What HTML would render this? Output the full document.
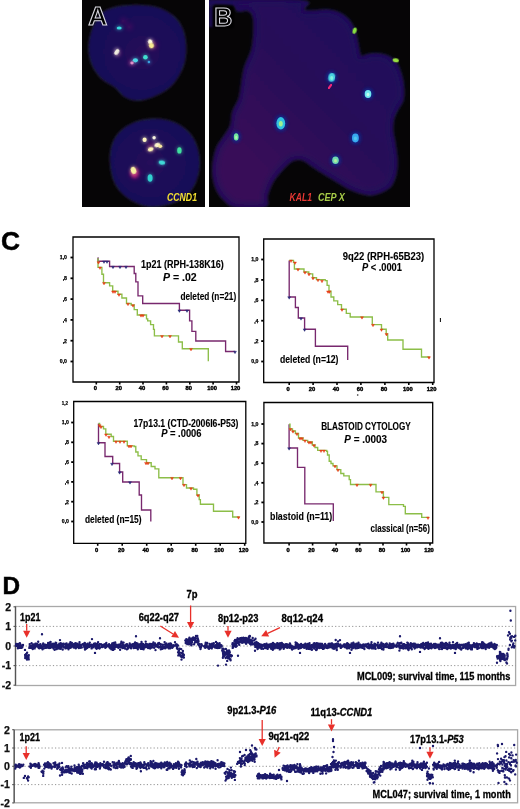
<!DOCTYPE html>
<html><head><meta charset="utf-8"><title>Figure</title>
<style>html,body{margin:0;padding:0;background:#fff;}body{width:520px;height:809px;position:relative;overflow:hidden;}</style>
</head><body>
<svg width="520" height="809" viewBox="0 0 520 809" style="position:absolute;left:0;top:0">
<defs>
<clipPath id="clipA"><rect x="82" y="0" width="123" height="207"/></clipPath>
<clipPath id="clipB"><rect x="209" y="0" width="201" height="207"/></clipPath>
<filter id="blur1" x="-10%" y="-10%" width="120%" height="120%"><feGaussianBlur stdDeviation="1.2"/></filter>
<filter id="blur06"><feGaussianBlur stdDeviation="0.6"/></filter>
<filter id="glow" x="-100%" y="-100%" width="300%" height="300%"><feGaussianBlur stdDeviation="1.6"/></filter>
<filter id="glowbig" x="-100%" y="-100%" width="300%" height="300%"><feGaussianBlur stdDeviation="2.5"/></filter>
<radialGradient id="gA1" cx="0.55" cy="0.5" r="0.55"><stop offset="0" stop-color="#280c5a"/><stop offset="0.45" stop-color="#1c0e58"/><stop offset="1" stop-color="#170e58"/></radialGradient>
<radialGradient id="gA2" cx="0.45" cy="0.5" r="0.55"><stop offset="0" stop-color="#260c5a"/><stop offset="0.45" stop-color="#1c0e58"/><stop offset="1" stop-color="#170e58"/></radialGradient>
<linearGradient id="gB" x1="1" y1="0" x2="0" y2="1"><stop offset="0" stop-color="#220c5c"/><stop offset="0.4" stop-color="#260c5a"/><stop offset="0.75" stop-color="#380a58"/><stop offset="1" stop-color="#3a0a58"/></linearGradient>
<filter id="innerB" x="-5%" y="-5%" width="110%" height="110%"><feMorphology operator="erode" radius="3"/><feGaussianBlur stdDeviation="3.5"/></filter>
<linearGradient id="gBfade" x1="0" y1="0" x2="0" y2="1"><stop offset="0" stop-color="#fff"/><stop offset="0.35" stop-color="#000"/><stop offset="1" stop-color="#000"/></linearGradient>
<radialGradient id="gBm" cx="0.4" cy="0.75" r="0.5"><stop offset="0" stop-color="#42085a" stop-opacity="0.7"/><stop offset="1" stop-color="#42085a" stop-opacity="0"/></radialGradient>
</defs>
<rect x="82" y="0" width="123" height="207" fill="#060506"/>
<g clip-path="url(#clipA)">
<path d="M105.6,10.6 C109.7,8.4 115.9,6.8 122.2,5.9 C128.5,5.0 137.2,4.8 143.5,5.2 C149.8,5.6 154.9,6.4 160.0,8.3 C165.1,10.2 170.4,13.2 174.2,16.5 C177.9,19.9 180.5,23.7 182.5,28.4 C184.5,33.1 185.6,39.4 186.0,44.9 C186.4,50.4 186.0,56.4 184.8,61.5 C183.6,66.6 181.5,71.4 178.9,75.7 C176.3,80.0 173.8,84.0 169.5,87.5 C165.2,91.0 158.4,94.7 152.9,96.9 C147.4,99.1 141.1,100.5 136.4,100.5 C131.7,100.5 128.2,99.1 124.6,96.9 C121.0,94.7 119.0,90.7 115.1,87.5 C111.1,84.3 104.8,82.0 100.9,78.0 C97.0,74.0 93.5,68.9 91.5,63.8 C89.5,58.7 88.6,52.8 88.6,47.3 C88.6,41.8 90.0,35.4 91.5,30.7 C93.0,26.0 95.1,22.2 97.4,18.9 C99.8,15.5 101.5,12.8 105.6,10.6 Z" fill="url(#gA1)" stroke="#22203a" stroke-width="1.1" filter="url(#blur1)"/>
<path d="M109.9,159.1 C109.9,153.2 110.9,147.3 112.7,142.6 C114.5,137.9 117.5,134.0 121.0,130.7 C124.5,127.3 129.1,124.5 134.0,122.5 C138.9,120.5 145.1,119.3 150.6,118.9 C156.1,118.5 162.0,118.9 167.1,120.1 C172.2,121.3 177.0,123.0 181.3,126.0 C185.6,128.9 190.2,133.1 193.1,137.8 C196.0,142.5 198.0,148.9 199.0,154.4 C200.0,159.9 200.0,165.4 199.0,170.9 C198.0,176.4 196.0,182.8 193.1,187.5 C190.2,192.2 186.0,196.4 181.3,199.3 C176.6,202.2 170.2,204.0 164.7,205.2 C159.2,206.4 153.7,207.2 148.2,206.4 C142.7,205.6 136.3,203.1 131.6,200.5 C126.9,197.9 122.9,194.8 119.8,191.0 C116.7,187.2 114.3,183.3 112.7,178.0 C111.1,172.7 109.9,165.0 109.9,159.1 Z" fill="url(#gA2)" stroke="#22203a" stroke-width="1.1" filter="url(#blur1)"/>
<circle cx="123.4" cy="20.8" r="2.5" fill="#a01070" opacity="0.45" filter="url(#glowbig)"/>
<circle cx="129.3" cy="26.7" r="2.5" fill="#a01070" opacity="0.45" filter="url(#glowbig)"/>
<circle cx="131.6" cy="62.6" r="3" fill="#a01070" opacity="0.45" filter="url(#glowbig)"/>
<circle cx="135" cy="174" r="5" fill="#a01070" opacity="0.45" filter="url(#glowbig)"/>
<circle cx="151" cy="146" r="4" fill="#a01070" opacity="0.45" filter="url(#glowbig)"/>
<circle cx="153" cy="45" r="4" fill="#a01070" opacity="0.45" filter="url(#glowbig)"/>
<circle cx="118" cy="53" r="3" fill="#a01070" opacity="0.45" filter="url(#glowbig)"/>
<ellipse cx="134.5" cy="173" rx="4" ry="5" fill="#d02080" opacity="0.75" filter="url(#glow)"/>
<ellipse cx="119.2" cy="27.9" rx="3.7" ry="2.7" fill="#38d8e0" opacity="0.35" filter="url(#glow)"/>
<ellipse cx="119.2" cy="27.9" rx="2.5" ry="1.5" fill="#38d8e0" transform="rotate(0 119.2 27.9)" filter="url(#blur06)"/>
<ellipse cx="150.2" cy="41.8" rx="3.4000000000000004" ry="3.8" fill="#fffbe8" opacity="0.35" filter="url(#glow)"/>
<ellipse cx="150.2" cy="41.8" rx="2.2" ry="2.6" fill="#fffbe8" transform="rotate(-25 150.2 41.8)" filter="url(#blur06)"/>
<ellipse cx="151.4" cy="45.6" rx="3.5999999999999996" ry="3.8" fill="#f8ec90" opacity="0.35" filter="url(#glow)"/>
<ellipse cx="151.4" cy="45.6" rx="2.4" ry="2.6" fill="#f8ec90" transform="rotate(-25 151.4 45.6)" filter="url(#blur06)"/>
<ellipse cx="116.8" cy="52.0" rx="3.2" ry="4.5" fill="#f0ece0" opacity="0.35" filter="url(#glow)"/>
<ellipse cx="116.8" cy="52.0" rx="2.0" ry="3.3" fill="#f0ece0" transform="rotate(35 116.8 52.0)" filter="url(#blur06)"/>
<ellipse cx="145.4" cy="57.2" rx="3.5" ry="3.5" fill="#40e0d0" opacity="0.35" filter="url(#glow)"/>
<ellipse cx="145.4" cy="57.2" rx="2.3" ry="2.3" fill="#40e0d0" transform="rotate(0 145.4 57.2)" filter="url(#blur06)"/>
<ellipse cx="135.4" cy="60.3" rx="3.8" ry="3.3" fill="#48d8e8" opacity="0.35" filter="url(#glow)"/>
<ellipse cx="135.4" cy="60.3" rx="2.6" ry="2.1" fill="#48d8e8" transform="rotate(0 135.4 60.3)" filter="url(#blur06)"/>
<ellipse cx="148.9" cy="62.0" rx="2.5" ry="2.5" fill="#3aa0e0" opacity="0.35" filter="url(#glow)"/>
<ellipse cx="148.9" cy="62.0" rx="1.3" ry="1.3" fill="#3aa0e0" transform="rotate(0 148.9 62.0)" filter="url(#blur06)"/>
<ellipse cx="132.0" cy="63.0" rx="2.9" ry="2.5999999999999996" fill="#e090c8" opacity="0.35" filter="url(#glow)"/>
<ellipse cx="132.0" cy="63.0" rx="1.7" ry="1.4" fill="#e090c8" transform="rotate(0 132.0 63.0)" filter="url(#blur06)"/>
<ellipse cx="144.6" cy="139.7" rx="3.3" ry="3.5" fill="#fff6c0" opacity="0.35" filter="url(#glow)"/>
<ellipse cx="144.6" cy="139.7" rx="2.1" ry="2.3" fill="#fff6c0" transform="rotate(0 144.6 139.7)" filter="url(#blur06)"/>
<ellipse cx="154.1" cy="137.8" rx="2.9" ry="2.9" fill="#f8f4e0" opacity="0.35" filter="url(#glow)"/>
<ellipse cx="154.1" cy="137.8" rx="1.7" ry="1.7" fill="#f8f4e0" transform="rotate(0 154.1 137.8)" filter="url(#blur06)"/>
<ellipse cx="150.6" cy="149.2" rx="4.0" ry="3.2" fill="#fff4b8" opacity="0.35" filter="url(#glow)"/>
<ellipse cx="150.6" cy="149.2" rx="2.8" ry="2.0" fill="#fff4b8" transform="rotate(-20 150.6 149.2)" filter="url(#blur06)"/>
<ellipse cx="157.2" cy="145.0" rx="4.0" ry="3.2" fill="#fff8d0" opacity="0.35" filter="url(#glow)"/>
<ellipse cx="157.2" cy="145.0" rx="2.8" ry="2.0" fill="#fff8d0" transform="rotate(-20 157.2 145.0)" filter="url(#blur06)"/>
<ellipse cx="160.2" cy="146.2" rx="3.2" ry="3.0" fill="#f8e8a0" opacity="0.35" filter="url(#glow)"/>
<ellipse cx="160.2" cy="146.2" rx="2.0" ry="1.8" fill="#f8e8a0" transform="rotate(0 160.2 146.2)" filter="url(#blur06)"/>
<ellipse cx="179.4" cy="150.4" rx="3.4000000000000004" ry="4.4" fill="#40e0a0" opacity="0.35" filter="url(#glow)"/>
<ellipse cx="179.4" cy="150.4" rx="2.2" ry="3.2" fill="#40e0a0" transform="rotate(0 179.4 150.4)" filter="url(#blur06)"/>
<ellipse cx="161.9" cy="162.6" rx="4.4" ry="3.3" fill="#40d8d8" opacity="0.35" filter="url(#glow)"/>
<ellipse cx="161.9" cy="162.6" rx="3.2" ry="2.1" fill="#40d8d8" transform="rotate(10 161.9 162.6)" filter="url(#blur06)"/>
<ellipse cx="133.5" cy="170.4" rx="3.8" ry="4.8" fill="#f8f0a0" opacity="0.35" filter="url(#glow)"/>
<ellipse cx="133.5" cy="170.4" rx="2.6" ry="3.6" fill="#f8f0a0" transform="rotate(-20 133.5 170.4)" filter="url(#blur06)"/>
<ellipse cx="150.1" cy="178" rx="3.7" ry="5.0" fill="#30d0d0" opacity="0.35" filter="url(#glow)"/>
<ellipse cx="150.1" cy="178" rx="2.5" ry="3.8" fill="#30d0d0" transform="rotate(0 150.1 178)" filter="url(#blur06)"/>
</g>
<rect x="209" y="0" width="201" height="207" fill="#060506"/>
<g clip-path="url(#clipB)">
<path d="M209,0 H214 V27 H209 Z" fill="#1a0e54" filter="url(#blur1)"/>
<path d="M209.0,0.0 C224.5,-1.2 286.1,-1.6 302.0,0.0 C317.9,1.6 302.4,7.7 304.2,9.5 C306.0,11.3 308.8,10.6 312.7,10.6 C316.6,10.6 322.9,9.2 327.5,9.5 C332.1,9.8 336.7,11.1 340.2,12.7 C343.7,14.3 346.4,16.5 348.7,19.0 C351.0,21.5 352.6,24.3 354.0,27.5 C355.4,30.7 356.2,34.5 357.1,38.0 C358.0,41.5 358.5,45.7 359.2,48.7 C359.9,51.7 359.9,55.1 361.3,56.0 C362.7,56.9 364.9,54.5 367.7,54.0 C370.5,53.5 374.8,53.0 378.3,53.3 C381.8,53.6 385.7,54.3 388.9,56.0 C392.1,57.7 395.2,60.5 397.3,63.5 C399.4,66.5 400.4,70.5 401.5,74.0 C402.6,77.5 403.4,80.3 403.7,84.6 C404.0,88.9 404.4,95.8 403.5,100.0 C402.6,104.2 399.6,106.8 398.0,110.0 C396.4,113.2 394.8,115.7 394.0,119.0 C393.2,122.3 392.8,126.1 393.0,130.0 C393.2,133.9 394.5,137.4 395.2,142.3 C395.9,147.2 397.1,153.9 397.3,159.2 C397.5,164.5 397.4,169.4 396.3,174.0 C395.2,178.6 393.6,183.5 391.0,186.7 C388.4,189.9 383.8,191.6 380.4,193.0 C377.0,194.4 374.0,195.4 370.4,195.4 C366.8,195.4 362.7,194.2 358.9,193.1 C355.1,191.9 351.2,190.4 347.4,188.5 C343.5,186.6 339.6,183.8 335.8,181.5 C332.0,179.2 328.5,177.3 324.3,174.6 C320.1,171.9 313.8,167.7 310.4,165.4 C307.0,163.1 306.1,162.0 304.0,161.0 C301.9,160.0 299.9,159.4 297.7,159.6 C295.5,159.8 293.5,160.3 291.0,162.0 C288.5,163.7 285.6,166.8 282.7,170.0 C279.8,173.2 276.0,177.3 273.5,181.5 C271.0,185.7 269.1,191.2 267.7,195.4 C266.3,199.7 270.9,205.1 265.3,207.0 C259.7,208.9 241.0,208.0 234.2,207.0 C227.4,206.0 227.4,203.6 224.5,201.0 C221.6,198.4 218.7,195.2 216.8,191.3 C214.9,187.4 213.6,182.6 212.9,177.7 C212.2,172.8 212.2,167.2 212.9,162.0 C213.6,156.8 214.9,151.1 216.8,146.6 C218.7,142.1 222.2,138.6 224.5,135.0 C226.8,131.4 229.1,128.9 230.4,125.0 C231.7,121.1 231.0,115.9 232.3,111.7 C233.6,107.5 236.8,103.1 238.1,100.0 C239.4,96.9 239.0,98.3 240.0,93.0 C241.0,87.7 242.1,75.4 244.0,68.0 C245.9,60.6 250.1,55.2 251.7,48.5 C253.3,41.8 253.5,33.1 253.7,28.0 C253.9,22.9 253.5,20.6 253.0,18.0 C252.5,15.4 251.7,13.8 250.5,12.5 C249.3,11.2 247.5,10.7 246.0,10.5 C244.5,10.3 243.1,11.4 241.5,11.5 C239.9,11.6 237.8,11.8 236.5,11.0 C235.2,10.2 235.4,7.5 233.5,6.5 C231.6,5.5 228.4,5.2 225.0,5.0 C221.6,4.8 215.7,4.7 213.0,5.0 C210.3,5.3 209.7,7.8 209.0,7.0 C208.3,6.2 193.5,1.2 209.0,0.0 Z" fill="#1c0e58" stroke="#1e1c30" stroke-width="1.2" filter="url(#blur1)"/>
<path d="M209.0,0.0 C224.5,-1.2 286.1,-1.6 302.0,0.0 C317.9,1.6 302.4,7.7 304.2,9.5 C306.0,11.3 308.8,10.6 312.7,10.6 C316.6,10.6 322.9,9.2 327.5,9.5 C332.1,9.8 336.7,11.1 340.2,12.7 C343.7,14.3 346.4,16.5 348.7,19.0 C351.0,21.5 352.6,24.3 354.0,27.5 C355.4,30.7 356.2,34.5 357.1,38.0 C358.0,41.5 358.5,45.7 359.2,48.7 C359.9,51.7 359.9,55.1 361.3,56.0 C362.7,56.9 364.9,54.5 367.7,54.0 C370.5,53.5 374.8,53.0 378.3,53.3 C381.8,53.6 385.7,54.3 388.9,56.0 C392.1,57.7 395.2,60.5 397.3,63.5 C399.4,66.5 400.4,70.5 401.5,74.0 C402.6,77.5 403.4,80.3 403.7,84.6 C404.0,88.9 404.4,95.8 403.5,100.0 C402.6,104.2 399.6,106.8 398.0,110.0 C396.4,113.2 394.8,115.7 394.0,119.0 C393.2,122.3 392.8,126.1 393.0,130.0 C393.2,133.9 394.5,137.4 395.2,142.3 C395.9,147.2 397.1,153.9 397.3,159.2 C397.5,164.5 397.4,169.4 396.3,174.0 C395.2,178.6 393.6,183.5 391.0,186.7 C388.4,189.9 383.8,191.6 380.4,193.0 C377.0,194.4 374.0,195.4 370.4,195.4 C366.8,195.4 362.7,194.2 358.9,193.1 C355.1,191.9 351.2,190.4 347.4,188.5 C343.5,186.6 339.6,183.8 335.8,181.5 C332.0,179.2 328.5,177.3 324.3,174.6 C320.1,171.9 313.8,167.7 310.4,165.4 C307.0,163.1 306.1,162.0 304.0,161.0 C301.9,160.0 299.9,159.4 297.7,159.6 C295.5,159.8 293.5,160.3 291.0,162.0 C288.5,163.7 285.6,166.8 282.7,170.0 C279.8,173.2 276.0,177.3 273.5,181.5 C271.0,185.7 269.1,191.2 267.7,195.4 C266.3,199.7 270.9,205.1 265.3,207.0 C259.7,208.9 241.0,208.0 234.2,207.0 C227.4,206.0 227.4,203.6 224.5,201.0 C221.6,198.4 218.7,195.2 216.8,191.3 C214.9,187.4 213.6,182.6 212.9,177.7 C212.2,172.8 212.2,167.2 212.9,162.0 C213.6,156.8 214.9,151.1 216.8,146.6 C218.7,142.1 222.2,138.6 224.5,135.0 C226.8,131.4 229.1,128.9 230.4,125.0 C231.7,121.1 231.0,115.9 232.3,111.7 C233.6,107.5 236.8,103.1 238.1,100.0 C239.4,96.9 239.0,98.3 240.0,93.0 C241.0,87.7 242.1,75.4 244.0,68.0 C245.9,60.6 250.1,55.2 251.7,48.5 C253.3,41.8 253.5,33.1 253.7,28.0 C253.9,22.9 253.5,20.6 253.0,18.0 C252.5,15.4 251.7,13.8 250.5,12.5 C249.3,11.2 247.5,10.7 246.0,10.5 C244.5,10.3 243.1,11.4 241.5,11.5 C239.9,11.6 237.8,11.8 236.5,11.0 C235.2,10.2 235.4,7.5 233.5,6.5 C231.6,5.5 228.4,5.2 225.0,5.0 C221.6,4.8 215.7,4.7 213.0,5.0 C210.3,5.3 209.7,7.8 209.0,7.0 C208.3,6.2 193.5,1.2 209.0,0.0 Z" fill="url(#gB)" filter="url(#innerB)"/>
<ellipse cx="331.7" cy="77.4" rx="5.6" ry="6.6000000000000005" fill="#0c2a90" opacity="0.8" filter="url(#glow)"/>
<ellipse cx="331.7" cy="77.4" rx="3.4" ry="4.4" fill="#48d0e0" transform="rotate(10 331.7 77.4)" filter="url(#blur06)"/>
<ellipse cx="331.7" cy="77.9" rx="1.53" ry="1.9800000000000002" fill="#80f0e0" filter="url(#blur06)"/>
<ellipse cx="368" cy="94" rx="5.5" ry="6.1" fill="#0c2a90" opacity="0.8" filter="url(#glow)"/>
<ellipse cx="368" cy="94" rx="3.3" ry="3.9" fill="#70e8f0" transform="rotate(0 368 94)" filter="url(#blur06)"/>
<ellipse cx="368" cy="94.5" rx="1.4849999999999999" ry="1.755" fill="#c0fff0" filter="url(#blur06)"/>
<ellipse cx="280.8" cy="123.3" rx="6.6000000000000005" ry="8.4" fill="#0c2a90" opacity="0.8" filter="url(#glow)"/>
<ellipse cx="280.8" cy="123.3" rx="4.4" ry="6.2" fill="#30c0e0" transform="rotate(0 280.8 123.3)" filter="url(#blur06)"/>
<ellipse cx="280.8" cy="123.8" rx="1.9800000000000002" ry="2.79" fill="#a0f090" filter="url(#blur06)"/>
<ellipse cx="236.2" cy="136.9" rx="4.6" ry="5.800000000000001" fill="#0c2a90" opacity="0.8" filter="url(#glow)"/>
<ellipse cx="236.2" cy="136.9" rx="2.4" ry="3.6" fill="#70e8a0" transform="rotate(0 236.2 136.9)" filter="url(#blur06)"/>
<ellipse cx="236.2" cy="137.4" rx="1.08" ry="1.62" fill="#b0f8b0" filter="url(#blur06)"/>
<ellipse cx="355.4" cy="138" rx="5.6" ry="6.6000000000000005" fill="#0c2a90" opacity="0.8" filter="url(#glow)"/>
<ellipse cx="355.4" cy="138" rx="3.4" ry="4.4" fill="#38a8f0" transform="rotate(0 355.4 138)" filter="url(#blur06)"/>
<ellipse cx="355.4" cy="138.5" rx="1.53" ry="1.9800000000000002" fill="#50c8f0" filter="url(#blur06)"/>
<ellipse cx="335.5" cy="160.3" rx="5.5" ry="6.0" fill="#0c2a90" opacity="0.8" filter="url(#glow)"/>
<ellipse cx="335.5" cy="160.3" rx="3.3" ry="3.8" fill="#70d8b0" transform="rotate(0 335.5 160.3)" filter="url(#blur06)"/>
<ellipse cx="335.5" cy="160.8" rx="1.4849999999999999" ry="1.71" fill="#b0f0a0" filter="url(#blur06)"/>
<ellipse cx="354.6" cy="30.7" rx="2.0" ry="3.1" fill="#88e040" transform="rotate(20 354.6 30.7)" filter="url(#blur06)"/>
<ellipse cx="395.8" cy="60.3" rx="3.1" ry="2.0" fill="#98e040" transform="rotate(10 395.8 60.3)" filter="url(#blur06)"/>
<path d="M328.8,88.2 L331.2,84.8" stroke="#f02878" stroke-width="2.2" stroke-linecap="round" filter="url(#blur06)"/>
</g>
<text x="88.3" y="25.4" font-family="Liberation Sans, sans-serif" font-weight="bold" font-size="26.5" fill="#000" stroke="#d8d8e0" stroke-width="1.1">A</text>
<rect x="212.5" y="5.5" width="21.5" height="23" rx="2" fill="#060506" filter="url(#blur1)"/>
<text x="214.2" y="25.6" font-family="Liberation Sans, sans-serif" font-weight="bold" font-size="25" fill="#000" stroke="#d8d8e0" stroke-width="1.1">B</text>
<text x="167" y="200.5" font-family="Liberation Sans, sans-serif" font-weight="bold" font-style="italic" font-size="10" fill="#f4e030" textLength="30" lengthAdjust="spacingAndGlyphs">CCND1</text>
<text x="289.6" y="201" font-family="Liberation Sans, sans-serif" font-weight="bold" font-style="italic" font-size="10" fill="#e83834" textLength="22.3" lengthAdjust="spacingAndGlyphs">KAL1</text>
<text x="318" y="201" font-family="Liberation Sans, sans-serif" font-weight="bold" font-style="italic" font-size="10" fill="#a8cc48" textLength="26.9" lengthAdjust="spacingAndGlyphs">CEP X</text>
<text x="1.0" y="250" font-family="Liberation Sans, sans-serif" font-weight="bold" font-size="26.3" fill="#000" stroke="#000" stroke-width="0.5">C</text>
<path d="M73,237 H239 V382 H73 Z" fill="none" stroke="#000" stroke-width="1.3"/>
<path d="M70.5,257.5 H73" stroke="#000" stroke-width="1.8"/>
<text x="67" y="259.3" font-family="Liberation Sans, sans-serif" font-weight="bold" font-size="5.2" text-anchor="end" stroke="#000" stroke-width="0.25">1,0</text>
<path d="M70.5,278.3 H73" stroke="#000" stroke-width="1.8"/>
<text x="67" y="280.1" font-family="Liberation Sans, sans-serif" font-weight="bold" font-size="5.2" text-anchor="end" stroke="#000" stroke-width="0.25">,8</text>
<path d="M70.5,299.1 H73" stroke="#000" stroke-width="1.8"/>
<text x="67" y="300.9" font-family="Liberation Sans, sans-serif" font-weight="bold" font-size="5.2" text-anchor="end" stroke="#000" stroke-width="0.25">,6</text>
<path d="M70.5,319.9 H73" stroke="#000" stroke-width="1.8"/>
<text x="67" y="321.7" font-family="Liberation Sans, sans-serif" font-weight="bold" font-size="5.2" text-anchor="end" stroke="#000" stroke-width="0.25">,4</text>
<path d="M70.5,340.7 H73" stroke="#000" stroke-width="1.8"/>
<text x="67" y="342.5" font-family="Liberation Sans, sans-serif" font-weight="bold" font-size="5.2" text-anchor="end" stroke="#000" stroke-width="0.25">,2</text>
<path d="M70.5,361.5 H73" stroke="#000" stroke-width="1.8"/>
<text x="67" y="363.3" font-family="Liberation Sans, sans-serif" font-weight="bold" font-size="5.2" text-anchor="end" stroke="#000" stroke-width="0.25">0,0</text>
<path d="M96.3,382 V384.5" stroke="#000" stroke-width="1.6"/>
<text x="95.3" y="390.20000000000005" font-family="Liberation Sans, sans-serif" font-weight="bold" font-size="5.8" text-anchor="middle" stroke="#000" stroke-width="0.4">0</text>
<path d="M119.7,382 V384.5" stroke="#000" stroke-width="1.6"/>
<text x="118.7" y="390.20000000000005" font-family="Liberation Sans, sans-serif" font-weight="bold" font-size="5.8" text-anchor="middle" stroke="#000" stroke-width="0.4">20</text>
<path d="M143.0,382 V384.5" stroke="#000" stroke-width="1.6"/>
<text x="142.0" y="390.20000000000005" font-family="Liberation Sans, sans-serif" font-weight="bold" font-size="5.8" text-anchor="middle" stroke="#000" stroke-width="0.4">40</text>
<path d="M166.4,382 V384.5" stroke="#000" stroke-width="1.6"/>
<text x="165.4" y="390.20000000000005" font-family="Liberation Sans, sans-serif" font-weight="bold" font-size="5.8" text-anchor="middle" stroke="#000" stroke-width="0.4">60</text>
<path d="M189.8,382 V384.5" stroke="#000" stroke-width="1.6"/>
<text x="188.8" y="390.20000000000005" font-family="Liberation Sans, sans-serif" font-weight="bold" font-size="5.8" text-anchor="middle" stroke="#000" stroke-width="0.4">80</text>
<path d="M213.1,382 V384.5" stroke="#000" stroke-width="1.6"/>
<text x="212.1" y="390.20000000000005" font-family="Liberation Sans, sans-serif" font-weight="bold" font-size="5.8" text-anchor="middle" stroke="#000" stroke-width="0.4">100</text>
<path d="M236.5,382 V384.5" stroke="#000" stroke-width="1.6"/>
<text x="235.5" y="390.20000000000005" font-family="Liberation Sans, sans-serif" font-weight="bold" font-size="5.8" text-anchor="middle" stroke="#000" stroke-width="0.4">120</text>
<path d="M97.5,258.0 L98.0,258.0 L98.0,261.2 L109.6,261.2 L109.6,266.5 L134.2,266.5 L134.2,273.5 L135.8,273.5 L135.8,281.9 L138.0,281.9 L138.0,295.8 L142.7,295.8 L142.7,303.5 L179.4,303.5 L179.4,310.2 L189.6,310.2 L189.6,320.8 L191.9,320.8 L191.9,331.3 L195.8,331.3 L195.8,341.0 L225.6,341.0 L225.6,351.5 L235.2,351.5 L235.2,351.5" fill="none" stroke="#78286e" stroke-width="1.35" stroke-linejoin="miter"/>
<path d="M97.3,258.8 L98.0,258.8 L98.0,267.3 L101.9,267.3 L101.9,274.2 L103.5,274.2 L103.5,282.7 L109.6,282.7 L109.6,285.8 L112.7,285.8 L112.7,291.2 L118.0,291.2 L118.0,294.2 L121.9,294.2 L121.9,298.0 L126.5,298.0 L126.5,303.5 L131.2,303.5 L131.2,305.0 L134.2,305.0 L134.2,309.6 L137.3,309.6 L137.3,315.0 L146.5,315.0 L146.5,318.8 L147.7,318.8 L147.7,320.8 L150.6,320.8 L150.6,324.6 L153.5,324.6 L153.5,329.4 L154.4,329.4 L154.4,335.8 L178.5,335.8 L178.5,342.0 L182.3,342.0 L182.3,348.7 L208.3,348.7 L208.3,348.7 L208.3,348.7 L208.3,361.2" fill="none" stroke="#8cbe48" stroke-width="1.35" stroke-linejoin="miter"/>
<path d="M102.5,260.9H105.5L104.0,263.4ZM105.5,260.9H108.5L107.0,263.4ZM111.5,266.2H114.5L113.0,268.7ZM118.5,266.2H121.5L120.0,268.7ZM124.5,266.2H127.5L126.0,268.7ZM177.9,309.9H180.9L179.4,312.4ZM185.5,309.9H188.5L187.0,312.4ZM233.5,351.2H236.5L235.0,353.7Z" fill="#2a2a78" stroke="#2a2a78" stroke-width="0.4"/>
<path d="M97.0,261.7H100.0L98.5,264.2ZM98.5,267.0H101.5L100.0,269.5ZM102.5,282.4H105.5L104.0,284.9ZM111.5,290.9H114.5L113.0,293.4ZM113.5,290.9H116.5L115.0,293.4ZM117.5,293.9H120.5L119.0,296.4ZM126.5,303.2H129.5L128.0,305.7ZM131.5,304.7H134.5L133.0,307.2ZM139.5,314.7H142.5L141.0,317.2ZM141.5,314.7H144.5L143.0,317.2ZM160.5,335.5H163.5L162.0,338.0ZM168.5,335.5H171.5L170.0,338.0ZM189.5,348.4H192.5L191.0,350.9Z" fill="#e8401a" stroke="#e8401a" stroke-width="0.4"/>
<text x="141" y="267.6" font-family="Liberation Sans, sans-serif" font-weight="bold" font-size="10" textLength="82.7" lengthAdjust="spacingAndGlyphs" stroke="#000" stroke-width="0.12" >1p21 (RPH-138K16)</text>
<text x="163" y="280.8" font-family="Liberation Sans, sans-serif" font-weight="bold" font-size="10" stroke="#000" stroke-width="0.12" textLength="33.7" lengthAdjust="spacingAndGlyphs"><tspan font-style="italic">P</tspan> = .02</text>
<text x="180.4" y="300.2" font-family="Liberation Sans, sans-serif" font-weight="bold" font-size="10" textLength="55.8" lengthAdjust="spacingAndGlyphs" stroke="#000" stroke-width="0.12" >deleted (n=21)</text>
<path d="M263.7,239 H434 V382.5 H263.7 Z" fill="none" stroke="#000" stroke-width="1.3"/>
<path d="M261.2,259.5 H263.7" stroke="#000" stroke-width="1.8"/>
<text x="258.5" y="261.3" font-family="Liberation Sans, sans-serif" font-weight="bold" font-size="5.2" text-anchor="end" stroke="#000" stroke-width="0.25">1,0</text>
<path d="M261.2,279.9 H263.7" stroke="#000" stroke-width="1.8"/>
<text x="258.5" y="281.7" font-family="Liberation Sans, sans-serif" font-weight="bold" font-size="5.2" text-anchor="end" stroke="#000" stroke-width="0.25">,8</text>
<path d="M261.2,300.3 H263.7" stroke="#000" stroke-width="1.8"/>
<text x="258.5" y="302.1" font-family="Liberation Sans, sans-serif" font-weight="bold" font-size="5.2" text-anchor="end" stroke="#000" stroke-width="0.25">,6</text>
<path d="M261.2,320.7 H263.7" stroke="#000" stroke-width="1.8"/>
<text x="258.5" y="322.5" font-family="Liberation Sans, sans-serif" font-weight="bold" font-size="5.2" text-anchor="end" stroke="#000" stroke-width="0.25">,4</text>
<path d="M261.2,341.1 H263.7" stroke="#000" stroke-width="1.8"/>
<text x="258.5" y="342.9" font-family="Liberation Sans, sans-serif" font-weight="bold" font-size="5.2" text-anchor="end" stroke="#000" stroke-width="0.25">,2</text>
<path d="M261.2,361.5 H263.7" stroke="#000" stroke-width="1.8"/>
<text x="258.5" y="363.3" font-family="Liberation Sans, sans-serif" font-weight="bold" font-size="5.2" text-anchor="end" stroke="#000" stroke-width="0.25">0,0</text>
<path d="M289.2,382.5 V385.0" stroke="#000" stroke-width="1.6"/>
<text x="288.2" y="390.8" font-family="Liberation Sans, sans-serif" font-weight="bold" font-size="5.8" text-anchor="middle" stroke="#000" stroke-width="0.4">0</text>
<path d="M313.1,382.5 V385.0" stroke="#000" stroke-width="1.6"/>
<text x="312.1" y="390.8" font-family="Liberation Sans, sans-serif" font-weight="bold" font-size="5.8" text-anchor="middle" stroke="#000" stroke-width="0.4">20</text>
<path d="M337.0,382.5 V385.0" stroke="#000" stroke-width="1.6"/>
<text x="336.0" y="390.8" font-family="Liberation Sans, sans-serif" font-weight="bold" font-size="5.8" text-anchor="middle" stroke="#000" stroke-width="0.4">40</text>
<path d="M360.9,382.5 V385.0" stroke="#000" stroke-width="1.6"/>
<text x="359.9" y="390.8" font-family="Liberation Sans, sans-serif" font-weight="bold" font-size="5.8" text-anchor="middle" stroke="#000" stroke-width="0.4">60</text>
<path d="M384.9,382.5 V385.0" stroke="#000" stroke-width="1.6"/>
<text x="383.9" y="390.8" font-family="Liberation Sans, sans-serif" font-weight="bold" font-size="5.8" text-anchor="middle" stroke="#000" stroke-width="0.4">80</text>
<path d="M408.8,382.5 V385.0" stroke="#000" stroke-width="1.6"/>
<text x="407.8" y="390.8" font-family="Liberation Sans, sans-serif" font-weight="bold" font-size="5.8" text-anchor="middle" stroke="#000" stroke-width="0.4">100</text>
<path d="M432.7,382.5 V385.0" stroke="#000" stroke-width="1.6"/>
<text x="431.7" y="390.8" font-family="Liberation Sans, sans-serif" font-weight="bold" font-size="5.8" text-anchor="middle" stroke="#000" stroke-width="0.4">120</text>
<path d="M289.2,260.4 L289.2,260.4 L289.2,297.0 L295.4,297.0 L295.4,307.5 L298.3,307.5 L298.3,318.0 L304.6,318.0 L304.6,329.2 L315.4,329.2 L315.4,346.2 L347.7,346.2 L347.7,346.2 L347.7,346.2 L347.7,360.0" fill="none" stroke="#78286e" stroke-width="1.35" stroke-linejoin="miter"/>
<path d="M289.2,260.4 L293.5,260.4 L293.5,262.3 L294.4,262.3 L294.4,269.0 L304.0,269.0 L304.0,272.0 L308.8,272.0 L308.8,273.8 L312.7,273.8 L312.7,277.7 L316.5,277.7 L316.5,279.6 L325.2,279.6 L325.2,280.6 L327.1,280.6 L327.1,285.4 L329.0,285.4 L329.0,291.2 L331.0,291.2 L331.0,297.0 L333.8,297.0 L333.8,300.8 L337.7,300.8 L337.7,304.6 L341.5,304.6 L341.5,309.2 L346.3,309.2 L346.3,313.3 L350.2,313.3 L350.2,317.0 L372.3,317.0 L372.3,324.6 L381.5,324.6 L381.5,329.2 L386.2,329.2 L386.2,333.8 L387.7,333.8 L387.7,340.0 L403.0,340.0 L403.0,349.2 L421.5,349.2 L421.5,357.0 L429.8,357.0 L429.8,357.0" fill="none" stroke="#8cbe48" stroke-width="1.35" stroke-linejoin="miter"/>
<path d="M287.7,296.7H290.7L289.2,299.2ZM299.5,317.7H302.5L301.0,320.2ZM303.1,328.9H306.1L304.6,331.4Z" fill="#2a2a78" stroke="#2a2a78" stroke-width="0.4"/>
<path d="M289.5,260.1H292.5L291.0,262.6ZM293.5,262.0H296.5L295.0,264.5ZM296.5,268.7H299.5L298.0,271.2ZM303.5,271.7H306.5L305.0,274.2ZM307.5,273.5H310.5L309.0,276.0ZM311.5,277.4H314.5L313.0,279.9ZM316.5,279.3H319.5L318.0,281.8ZM320.5,280.3H323.5L322.0,282.8ZM326.5,290.9H329.5L328.0,293.4ZM328.0,290.9H331.0L329.5,293.4ZM340.5,308.9H343.5L342.0,311.4ZM360.5,316.7H363.5L362.0,319.2ZM371.5,324.3H374.5L373.0,326.8ZM380.0,328.9H383.0L381.5,331.4ZM385.0,333.5H388.0L386.5,336.0ZM427.5,356.7H430.5L429.0,359.2Z" fill="#e8401a" stroke="#e8401a" stroke-width="0.4"/>
<text x="342.7" y="259.8" font-family="Liberation Sans, sans-serif" font-weight="bold" font-size="10" textLength="81.5" lengthAdjust="spacingAndGlyphs" stroke="#000" stroke-width="0.12" >9q22 (RPH-65B23)</text>
<text x="362" y="270.5" font-family="Liberation Sans, sans-serif" font-weight="bold" font-size="10" stroke="#000" stroke-width="0.12" textLength="39.9" lengthAdjust="spacingAndGlyphs"><tspan font-style="italic">P</tspan> &lt; .0001</text>
<text x="280" y="362.8" font-family="Liberation Sans, sans-serif" font-weight="bold" font-size="10" textLength="58.5" lengthAdjust="spacingAndGlyphs" stroke="#000" stroke-width="0.12" >deleted (n=12)</text>
<path d="M440.4,318 V322" stroke="#000" stroke-width="1"/>
<circle cx="357.7" cy="395" r="0.8" fill="#222"/>
<path d="M73.7,401.5 H245.8 V543.3 H73.7 Z" fill="none" stroke="#000" stroke-width="1.3"/>
<path d="M71.2,422.5 H73.7" stroke="#000" stroke-width="1.8"/>
<text x="69" y="424.3" font-family="Liberation Sans, sans-serif" font-weight="bold" font-size="5.2" text-anchor="end" stroke="#000" stroke-width="0.25">1,0</text>
<path d="M71.2,442.3 H73.7" stroke="#000" stroke-width="1.8"/>
<text x="69" y="444.1" font-family="Liberation Sans, sans-serif" font-weight="bold" font-size="5.2" text-anchor="end" stroke="#000" stroke-width="0.25">,8</text>
<path d="M71.2,462.1 H73.7" stroke="#000" stroke-width="1.8"/>
<text x="69" y="463.9" font-family="Liberation Sans, sans-serif" font-weight="bold" font-size="5.2" text-anchor="end" stroke="#000" stroke-width="0.25">,6</text>
<path d="M71.2,481.9 H73.7" stroke="#000" stroke-width="1.8"/>
<text x="69" y="483.7" font-family="Liberation Sans, sans-serif" font-weight="bold" font-size="5.2" text-anchor="end" stroke="#000" stroke-width="0.25">,4</text>
<path d="M71.2,501.7 H73.7" stroke="#000" stroke-width="1.8"/>
<text x="69" y="503.5" font-family="Liberation Sans, sans-serif" font-weight="bold" font-size="5.2" text-anchor="end" stroke="#000" stroke-width="0.25">,2</text>
<path d="M71.2,521.5 H73.7" stroke="#000" stroke-width="1.8"/>
<text x="69" y="523.3" font-family="Liberation Sans, sans-serif" font-weight="bold" font-size="5.2" text-anchor="end" stroke="#000" stroke-width="0.25">0,0</text>
<path d="M97.7,543.3 V545.8" stroke="#000" stroke-width="1.6"/>
<text x="96.7" y="551.6" font-family="Liberation Sans, sans-serif" font-weight="bold" font-size="5.8" text-anchor="middle" stroke="#000" stroke-width="0.4">0</text>
<path d="M122.2,543.3 V545.8" stroke="#000" stroke-width="1.6"/>
<text x="121.2" y="551.6" font-family="Liberation Sans, sans-serif" font-weight="bold" font-size="5.8" text-anchor="middle" stroke="#000" stroke-width="0.4">20</text>
<path d="M146.7,543.3 V545.8" stroke="#000" stroke-width="1.6"/>
<text x="145.7" y="551.6" font-family="Liberation Sans, sans-serif" font-weight="bold" font-size="5.8" text-anchor="middle" stroke="#000" stroke-width="0.4">40</text>
<path d="M171.2,543.3 V545.8" stroke="#000" stroke-width="1.6"/>
<text x="170.2" y="551.6" font-family="Liberation Sans, sans-serif" font-weight="bold" font-size="5.8" text-anchor="middle" stroke="#000" stroke-width="0.4">60</text>
<path d="M195.7,543.3 V545.8" stroke="#000" stroke-width="1.6"/>
<text x="194.7" y="551.6" font-family="Liberation Sans, sans-serif" font-weight="bold" font-size="5.8" text-anchor="middle" stroke="#000" stroke-width="0.4">80</text>
<path d="M220.2,543.3 V545.8" stroke="#000" stroke-width="1.6"/>
<text x="219.2" y="551.6" font-family="Liberation Sans, sans-serif" font-weight="bold" font-size="5.8" text-anchor="middle" stroke="#000" stroke-width="0.4">100</text>
<path d="M244.7,543.3 V545.8" stroke="#000" stroke-width="1.6"/>
<text x="243.7" y="551.6" font-family="Liberation Sans, sans-serif" font-weight="bold" font-size="5.8" text-anchor="middle" stroke="#000" stroke-width="0.4">120</text>
<text x="68" y="405" font-family="Liberation Sans, sans-serif" font-weight="bold" font-size="4.5" text-anchor="end" stroke="#000" stroke-width="0.2">1,2</text>
<path d="M98.5,423.5 L98.5,423.5 L98.5,442.7 L105.0,442.7 L105.0,456.5 L112.7,456.5 L112.7,463.5 L119.6,463.5 L119.6,472.0 L122.7,472.0 L122.7,482.0 L139.2,482.0 L139.2,495.0 L141.5,495.0 L141.5,510.0 L150.8,510.0 L150.8,521.5" fill="none" stroke="#78286e" stroke-width="1.35" stroke-linejoin="miter"/>
<path d="M98.5,423.5 L99.6,423.5 L99.6,426.5 L103.5,426.5 L103.5,428.8 L105.8,428.8 L105.8,434.2 L111.2,434.2 L111.2,436.5 L113.5,436.5 L113.5,441.2 L127.3,441.2 L127.3,445.8 L134.2,445.8 L134.2,446.5 L135.8,446.5 L135.8,452.0 L138.0,452.0 L138.0,455.8 L141.2,455.8 L141.2,459.6 L146.5,459.6 L146.5,462.7 L151.2,462.7 L151.2,466.5 L155.0,466.5 L155.0,468.8 L158.8,468.8 L158.8,472.0 L158.8,472.0 L158.8,477.7 L183.0,477.7 L183.0,484.6 L186.5,484.6 L186.5,488.0 L193.5,488.0 L193.5,489.2 L196.9,489.2 L196.9,495.0 L199.2,495.0 L199.2,499.6 L200.4,499.6 L200.4,504.2 L213.5,504.2 L213.5,511.2 L232.7,511.2 L232.7,517.0 L239.6,517.0 L239.6,517.0" fill="none" stroke="#8cbe48" stroke-width="1.35" stroke-linejoin="miter"/>
<path d="M97.0,442.4H100.0L98.5,444.9ZM110.5,463.2H113.5L112.0,465.7ZM118.1,471.7H121.1L119.6,474.2ZM128.5,481.7H131.5L130.0,484.2Z" fill="#2a2a78" stroke="#2a2a78" stroke-width="0.4"/>
<path d="M98.1,424.7H101.1L99.6,427.2ZM99.5,426.2H102.5L101.0,428.7ZM104.5,433.9H107.5L106.0,436.4ZM107.5,436.2H110.5L109.0,438.7ZM114.5,440.9H117.5L116.0,443.4ZM118.5,440.9H121.5L120.0,443.4ZM122.5,440.9H125.5L124.0,443.4ZM127.5,445.5H130.5L129.0,448.0ZM129.5,445.5H132.5L131.0,448.0ZM144.5,462.4H147.5L146.0,464.9ZM146.5,462.4H149.5L148.0,464.9ZM170.5,477.4H173.5L172.0,479.9ZM179.0,477.4H182.0L180.5,479.9ZM182.5,484.3H185.5L184.0,486.8ZM189.5,487.7H192.5L191.0,490.2ZM196.5,494.7H199.5L198.0,497.2ZM237.0,516.7H240.0L238.5,519.2Z" fill="#e8401a" stroke="#e8401a" stroke-width="0.4"/>
<text x="133.5" y="426.8" font-family="Liberation Sans, sans-serif" font-weight="bold" font-size="10" textLength="105" lengthAdjust="spacingAndGlyphs" stroke="#000" stroke-width="0.12" >17p13.1 (CTD-2006I6-P53)</text>
<text x="161.2" y="437.4" font-family="Liberation Sans, sans-serif" font-weight="bold" font-size="10" stroke="#000" stroke-width="0.12" textLength="40.3" lengthAdjust="spacingAndGlyphs"><tspan font-style="italic">P</tspan> = .0006</text>
<text x="85" y="522.6" font-family="Liberation Sans, sans-serif" font-weight="bold" font-size="10" textLength="56.5" lengthAdjust="spacingAndGlyphs" stroke="#000" stroke-width="0.12" >deleted (n=15)</text>
<path d="M263.9,402.5 H432.7 V543 H263.9 Z" fill="none" stroke="#000" stroke-width="1.3"/>
<path d="M261.4,424.0 H263.9" stroke="#000" stroke-width="1.8"/>
<text x="258.5" y="425.8" font-family="Liberation Sans, sans-serif" font-weight="bold" font-size="5.2" text-anchor="end" stroke="#000" stroke-width="0.25">1,0</text>
<path d="M261.4,443.6 H263.9" stroke="#000" stroke-width="1.8"/>
<text x="258.5" y="445.4" font-family="Liberation Sans, sans-serif" font-weight="bold" font-size="5.2" text-anchor="end" stroke="#000" stroke-width="0.25">,8</text>
<path d="M261.4,463.2 H263.9" stroke="#000" stroke-width="1.8"/>
<text x="258.5" y="465.0" font-family="Liberation Sans, sans-serif" font-weight="bold" font-size="5.2" text-anchor="end" stroke="#000" stroke-width="0.25">,6</text>
<path d="M261.4,482.8 H263.9" stroke="#000" stroke-width="1.8"/>
<text x="258.5" y="484.6" font-family="Liberation Sans, sans-serif" font-weight="bold" font-size="5.2" text-anchor="end" stroke="#000" stroke-width="0.25">,4</text>
<path d="M261.4,502.4 H263.9" stroke="#000" stroke-width="1.8"/>
<text x="258.5" y="504.2" font-family="Liberation Sans, sans-serif" font-weight="bold" font-size="5.2" text-anchor="end" stroke="#000" stroke-width="0.25">,2</text>
<path d="M261.4,522.0 H263.9" stroke="#000" stroke-width="1.8"/>
<text x="258.5" y="523.8" font-family="Liberation Sans, sans-serif" font-weight="bold" font-size="5.2" text-anchor="end" stroke="#000" stroke-width="0.25">0,0</text>
<path d="M289.1,543 V545.5" stroke="#000" stroke-width="1.6"/>
<text x="288.1" y="551.6" font-family="Liberation Sans, sans-serif" font-weight="bold" font-size="5.8" text-anchor="middle" stroke="#000" stroke-width="0.4">0</text>
<path d="M312.6,543 V545.5" stroke="#000" stroke-width="1.6"/>
<text x="311.6" y="551.6" font-family="Liberation Sans, sans-serif" font-weight="bold" font-size="5.8" text-anchor="middle" stroke="#000" stroke-width="0.4">20</text>
<path d="M336.1,543 V545.5" stroke="#000" stroke-width="1.6"/>
<text x="335.1" y="551.6" font-family="Liberation Sans, sans-serif" font-weight="bold" font-size="5.8" text-anchor="middle" stroke="#000" stroke-width="0.4">40</text>
<path d="M359.6,543 V545.5" stroke="#000" stroke-width="1.6"/>
<text x="358.6" y="551.6" font-family="Liberation Sans, sans-serif" font-weight="bold" font-size="5.8" text-anchor="middle" stroke="#000" stroke-width="0.4">60</text>
<path d="M383.0,543 V545.5" stroke="#000" stroke-width="1.6"/>
<text x="382.0" y="551.6" font-family="Liberation Sans, sans-serif" font-weight="bold" font-size="5.8" text-anchor="middle" stroke="#000" stroke-width="0.4">80</text>
<path d="M406.5,543 V545.5" stroke="#000" stroke-width="1.6"/>
<text x="405.5" y="551.6" font-family="Liberation Sans, sans-serif" font-weight="bold" font-size="5.8" text-anchor="middle" stroke="#000" stroke-width="0.4">100</text>
<path d="M430.0,543 V545.5" stroke="#000" stroke-width="1.6"/>
<text x="429.0" y="551.6" font-family="Liberation Sans, sans-serif" font-weight="bold" font-size="5.8" text-anchor="middle" stroke="#000" stroke-width="0.4">120</text>
<path d="M289.1,424.2 L289.1,424.2 L289.1,448.0 L297.5,448.0 L297.5,467.3 L304.8,467.3 L304.8,486.3 L304.8,486.3 L304.8,503.9 L333.3,503.9 L333.3,503.9 L333.3,503.9 L333.3,521.0" fill="none" stroke="#78286e" stroke-width="1.35" stroke-linejoin="miter"/>
<path d="M289.1,424.2 L290.0,424.2 L290.0,428.8 L292.5,428.8 L292.5,431.0 L295.4,431.0 L295.4,433.5 L298.5,433.5 L298.5,438.0 L303.0,438.0 L303.0,440.4 L307.7,440.4 L307.7,442.0 L312.3,442.0 L312.3,445.0 L315.0,445.0 L315.0,447.5 L317.7,447.5 L317.7,450.4 L326.7,450.4 L326.7,451.4 L327.5,451.4 L327.5,455.0 L329.2,455.0 L329.2,461.2 L331.0,461.2 L331.0,463.5 L333.0,463.5 L333.0,465.8 L337.0,465.8 L337.0,469.6 L340.8,469.6 L340.8,473.5 L343.8,473.5 L343.8,475.8 L349.2,475.8 L349.2,479.6 L350.5,479.6 L350.5,484.5 L370.6,484.5 L370.6,484.5 L376.0,484.5 L376.0,491.8 L383.4,491.8 L383.4,497.3 L388.8,497.3 L388.8,504.6 L403.5,504.6 L403.5,506.4 L405.3,506.4 L405.3,513.7 L419.9,513.7 L419.9,513.7 L421.7,513.7 L421.7,517.4 L429.0,517.4 L429.0,517.4" fill="none" stroke="#8cbe48" stroke-width="1.35" stroke-linejoin="miter"/>
<path d="M287.6,447.7H290.6L289.1,450.2Z" fill="#2a2a78" stroke="#2a2a78" stroke-width="0.4"/>
<path d="M289.0,428.5H292.0L290.5,431.0ZM291.5,430.7H294.5L293.0,433.2ZM295.5,433.2H298.5L297.0,435.7ZM298.5,437.7H301.5L300.0,440.2ZM300.5,437.7H303.5L302.0,440.2ZM303.5,440.1H306.5L305.0,442.6ZM307.5,441.7H310.5L309.0,444.2ZM309.5,441.7H312.5L311.0,444.2ZM312.5,444.7H315.5L314.0,447.2ZM319.5,450.1H322.5L321.0,452.6ZM322.5,450.1H325.5L324.0,452.6ZM333.5,465.5H336.5L335.0,468.0ZM336.5,469.3H339.5L338.0,471.8ZM355.5,484.2H358.5L357.0,486.7ZM369.1,484.2H372.1L370.6,486.7ZM380.5,491.5H383.5L382.0,494.0ZM381.9,497.0H384.9L383.4,499.5ZM426.5,517.1H429.5L428.0,519.6Z" fill="#e8401a" stroke="#e8401a" stroke-width="0.4"/>
<text x="321.2" y="429.7" font-family="Liberation Sans, sans-serif" font-weight="bold" font-size="10" textLength="89.6" lengthAdjust="spacingAndGlyphs" stroke="#000" stroke-width="0.12" >BLASTOID CYTOLOGY</text>
<text x="344.3" y="442.5" font-family="Liberation Sans, sans-serif" font-weight="bold" font-size="10" stroke="#000" stroke-width="0.12" textLength="42.7" lengthAdjust="spacingAndGlyphs"><tspan font-style="italic">P</tspan> = .0003</text>
<text x="270" y="519.5" font-family="Liberation Sans, sans-serif" font-weight="bold" font-size="10" textLength="62.2" lengthAdjust="spacingAndGlyphs" stroke="#000" stroke-width="0.12" >blastoid (n=11)</text>
<text x="370.6" y="532.3" font-family="Liberation Sans, sans-serif" font-weight="bold" font-size="10" textLength="59.2" lengthAdjust="spacingAndGlyphs" stroke="#000" stroke-width="0.12" >classical (n=56)</text>
<text x="2.6" y="593.8" font-family="Liberation Sans, sans-serif" font-weight="bold" font-size="24.3" fill="#000" stroke="#000" stroke-width="0.5">D</text>
<rect x="15.5" y="606.5" width="500.1" height="79.0" fill="none" stroke="#a8a8a8" stroke-width="1.3"/>
<path d="M15.5,626.4 H515.6" stroke="#888" stroke-width="0.9" stroke-dasharray="1.2,2.2"/>
<path d="M15.5,646.0 H515.6" stroke="#888" stroke-width="0.9" stroke-dasharray="1.2,2.2"/>
<path d="M15.5,665.6 H515.6" stroke="#888" stroke-width="0.9" stroke-dasharray="1.2,2.2"/>
<path d="M15.5,606.5 V685.5" stroke="#555" stroke-width="1.3"/>
<path d="M13.5,606.8 H15.5" stroke="#555" stroke-width="1.1"/>
<text x="11.1" y="610.6" font-family="Liberation Sans, sans-serif" font-weight="bold" font-size="10.6" text-anchor="end" fill="#111" stroke="#111" stroke-width="0.25">2</text>
<path d="M13.5,626.4 H15.5" stroke="#555" stroke-width="1.1"/>
<text x="11.1" y="630.2" font-family="Liberation Sans, sans-serif" font-weight="bold" font-size="10.6" text-anchor="end" fill="#111" stroke="#111" stroke-width="0.25">1</text>
<path d="M13.5,646.0 H15.5" stroke="#555" stroke-width="1.1"/>
<text x="11.1" y="649.8" font-family="Liberation Sans, sans-serif" font-weight="bold" font-size="10.6" text-anchor="end" fill="#111" stroke="#111" stroke-width="0.25">0</text>
<path d="M13.5,665.6 H15.5" stroke="#555" stroke-width="1.1"/>
<text x="11.1" y="669.4" font-family="Liberation Sans, sans-serif" font-weight="bold" font-size="10.6" text-anchor="end" fill="#111" stroke="#111" stroke-width="0.25">-1</text>
<path d="M13.5,685.2 H15.5" stroke="#555" stroke-width="1.1"/>
<text x="11.1" y="689.0" font-family="Liberation Sans, sans-serif" font-weight="bold" font-size="10.6" text-anchor="end" fill="#111" stroke="#111" stroke-width="0.25">-2</text>
<path d="M20.4 644.4h0M22.3 647.2h0M21.4 646.0h0M17.6 644.7h0M18.1 646.9h0M22.1 646.2h0M16.0 645.8h0M21.7 645.9h0M21.6 647.8h0M19.3 645.9h0M18.1 644.0h0M17.9 648.3h0M17.8 644.7h0M19.1 645.8h0M19.5 646.9h0M19.9 643.1h0M23.0 644.9h0M21.5 647.8h0M20.4 645.9h0M22.9 645.2h0M17.5 646.3h0M17.1 645.0h0M20.3 646.1h0M16.3 645.0h0M16.2 643.9h0M19.6 647.0h0M19.3 645.7h0M22.4 646.7h0M20.4 645.8h0M19.6 647.7h0M19.5 646.9h0M17.7 646.3h0M16.1 644.7h0M17.3 644.3h0M20.8 647.9h0M27.5 657.2h0M25.9 654.3h0M28.4 655.6h0M27.5 656.5h0M25.1 654.9h0M28.3 657.2h0M28.8 655.1h0M28.6 656.7h0M27.1 655.4h0M25.2 658.0h0M25.4 655.4h0M28.7 659.4h0M27.0 659.5h0M25.3 656.5h0M28.5 658.1h0M27.4 656.2h0M27.1 652.8h0M26.2 657.5h0M116.9 646.0h0M130.8 647.4h0M81.8 647.4h0M106.2 646.7h0M143.0 649.1h0M164.4 648.1h0M51.3 646.6h0M168.1 645.8h0M29.6 646.3h0M141.1 648.6h0M149.7 646.7h0M49.2 644.8h0M91.3 645.2h0M150.4 646.1h0M30.9 647.3h0M122.6 645.1h0M147.1 646.9h0M105.3 647.7h0M137.1 647.2h0M62.6 643.9h0M58.4 645.7h0M83.0 644.3h0M55.6 646.7h0M80.4 644.6h0M170.3 646.9h0M114.3 646.2h0M79.5 642.3h0M69.3 644.9h0M170.8 646.7h0M95.1 646.1h0M175.1 645.5h0M105.7 644.2h0M106.6 646.7h0M162.6 648.6h0M139.6 646.4h0M115.4 646.0h0M92.5 645.8h0M159.8 644.1h0M90.2 645.5h0M166.5 644.8h0M39.1 647.6h0M93.0 644.7h0M106.3 642.9h0M170.7 644.9h0M66.2 645.6h0M149.1 645.8h0M129.7 643.4h0M135.8 647.4h0M122.7 646.2h0M173.8 645.3h0M78.4 644.9h0M88.2 646.6h0M59.1 645.5h0M36.4 646.4h0M60.6 645.8h0M165.4 646.2h0M154.2 647.7h0M45.6 646.0h0M118.9 644.7h0M100.3 647.4h0M117.5 646.4h0M127.2 645.0h0M74.6 647.6h0M172.2 645.7h0M98.3 647.6h0M122.5 644.3h0M123.6 642.6h0M56.2 643.0h0M38.0 646.3h0M90.2 644.9h0M142.8 645.8h0M150.4 645.8h0M137.7 643.7h0M45.7 647.9h0M165.1 644.4h0M148.5 646.1h0M159.8 643.9h0M106.9 645.7h0M165.4 647.0h0M35.8 645.6h0M33.3 644.9h0M31.8 645.9h0M66.5 645.3h0M65.9 646.8h0M56.8 649.1h0M113.4 644.7h0M34.6 645.0h0M116.9 645.8h0M53.6 645.9h0M129.9 644.5h0M31.9 646.7h0M75.1 647.0h0M168.8 646.3h0M109.1 644.3h0M149.9 648.0h0M127.0 644.2h0M119.9 646.9h0M57.3 647.6h0M114.5 644.1h0M34.7 646.1h0M148.4 647.9h0M172.0 646.5h0M156.2 644.6h0M36.4 644.2h0M79.3 646.6h0M76.2 645.4h0M45.6 645.0h0M122.3 646.9h0M147.8 645.5h0M75.6 646.0h0M157.5 646.8h0M147.7 646.7h0M48.1 645.9h0M143.2 646.0h0M160.5 646.8h0M58.2 646.6h0M114.4 644.4h0M124.1 645.7h0M119.7 644.7h0M43.2 644.2h0M127.4 645.1h0M123.1 642.7h0M151.7 647.2h0M148.7 644.8h0M77.6 646.5h0M136.5 643.3h0M158.2 643.5h0M162.0 648.9h0M52.9 647.4h0M32.8 645.0h0M125.9 644.8h0M60.8 644.9h0M112.9 646.1h0M169.8 645.3h0M85.4 645.0h0M66.5 646.1h0M96.9 644.5h0M126.9 649.3h0M43.9 645.1h0M85.6 647.5h0M48.8 644.6h0M127.6 646.3h0M152.7 647.3h0M85.0 645.5h0M84.3 647.3h0M109.3 647.3h0M60.9 648.3h0M65.7 646.0h0M78.0 645.3h0M97.0 644.5h0M41.0 646.2h0M141.1 644.5h0M115.2 646.0h0M73.5 646.1h0M40.4 645.2h0M142.7 644.4h0M48.4 646.5h0M48.7 646.4h0M48.3 646.2h0M40.9 645.9h0M164.0 647.3h0M69.0 644.5h0M74.5 646.6h0M153.1 645.3h0M121.3 647.2h0M56.7 645.5h0M93.7 645.4h0M160.7 646.6h0M84.8 643.0h0M134.9 645.5h0M43.2 643.4h0M137.3 644.6h0M144.6 647.0h0M152.0 646.6h0M129.4 645.4h0M84.1 645.9h0M38.4 645.9h0M106.2 646.4h0M141.8 648.7h0M57.3 646.3h0M68.5 649.3h0M108.8 645.5h0M140.5 647.1h0M162.6 647.1h0M47.6 646.3h0M56.3 645.6h0M148.1 648.1h0M125.0 648.6h0M136.4 647.6h0M177.5 649.0h0M168.9 647.4h0M154.6 643.7h0M144.7 647.6h0M87.7 645.0h0M124.5 648.0h0M56.3 645.6h0M142.1 646.5h0M141.8 646.1h0M136.4 645.2h0M95.2 643.4h0M85.2 645.7h0M91.4 645.8h0M33.8 647.4h0M154.8 645.1h0M109.7 646.4h0M86.6 644.8h0M110.6 646.1h0M136.5 643.4h0M85.7 648.9h0M152.7 646.4h0M166.0 644.7h0M86.6 646.5h0M49.4 647.2h0M142.2 646.4h0M176.9 648.0h0M50.9 645.8h0M135.1 642.4h0M151.9 644.3h0M166.1 647.6h0M47.2 647.3h0M42.5 646.6h0M176.2 644.5h0M46.2 647.2h0M55.2 647.0h0M114.6 644.7h0M95.4 644.7h0M140.8 646.5h0M57.2 647.6h0M165.2 648.3h0M61.2 647.0h0M143.6 649.3h0M38.9 644.9h0M99.4 646.9h0M33.7 645.3h0M75.6 643.3h0M75.4 644.3h0M136.2 647.7h0M96.7 644.7h0M37.3 644.3h0M177.3 647.1h0M161.4 647.4h0M165.5 646.2h0M65.6 648.4h0M87.6 643.8h0M62.7 649.5h0M47.4 647.6h0M33.7 646.4h0M103.9 646.3h0M47.2 645.8h0M55.1 645.6h0M157.2 646.3h0M101.0 644.3h0M56.2 649.1h0M128.7 646.0h0M68.5 647.1h0M107.4 645.8h0M71.0 645.7h0M105.8 647.3h0M122.6 646.9h0M108.8 644.8h0M87.8 645.5h0M146.8 647.0h0M159.1 643.0h0M55.6 642.6h0M49.1 648.1h0M45.7 645.6h0M175.0 642.3h0M169.3 644.8h0M63.2 645.7h0M173.5 646.3h0M59.8 646.8h0M104.4 646.3h0M103.0 646.8h0M165.3 644.9h0M34.8 646.6h0M75.9 646.6h0M118.3 647.8h0M38.7 646.1h0M64.1 647.3h0M98.2 646.3h0M160.2 644.5h0M142.3 645.5h0M152.5 645.3h0M142.4 645.5h0M134.4 645.9h0M155.6 646.2h0M130.5 646.5h0M138.6 644.9h0M73.8 647.6h0M53.8 644.0h0M141.7 645.9h0M53.5 647.1h0M166.0 646.7h0M117.8 647.0h0M78.0 645.8h0M168.5 647.1h0M51.9 644.3h0M105.6 647.1h0M42.5 649.3h0M172.8 647.1h0M114.6 649.0h0M148.7 646.1h0M70.9 644.4h0M148.4 645.0h0M133.7 648.0h0M124.8 647.1h0M170.6 643.4h0M93.5 645.5h0M90.7 646.0h0M132.1 644.4h0M153.4 642.4h0M78.8 644.1h0M128.7 645.8h0M60.0 645.5h0M111.1 645.1h0M143.6 646.9h0M38.5 647.6h0M137.4 645.9h0M31.1 647.4h0M171.8 646.1h0M98.7 645.9h0M89.8 642.6h0M136.3 647.3h0M106.9 646.2h0M137.8 646.2h0M41.4 645.4h0M112.8 644.5h0M112.1 646.7h0M167.9 647.2h0M34.7 648.4h0M96.4 647.4h0M123.0 645.2h0M111.0 645.9h0M39.9 647.5h0M117.3 646.5h0M62.0 646.0h0M58.0 645.3h0M159.9 646.9h0M58.3 646.4h0M96.6 648.7h0M140.7 647.7h0M134.3 643.6h0M111.4 649.2h0M149.2 646.5h0M98.3 645.7h0M121.4 646.6h0M151.0 647.2h0M130.0 646.1h0M124.6 646.0h0M89.4 646.1h0M112.1 648.8h0M87.9 646.2h0M139.8 647.3h0M85.6 646.8h0M98.4 645.7h0M141.5 645.1h0M103.9 644.7h0M79.2 646.7h0M152.2 644.6h0M85.6 644.3h0M154.8 644.3h0M146.0 644.0h0M95.5 646.2h0M135.2 646.3h0M33.9 644.8h0M87.0 648.0h0M157.2 645.7h0M115.3 646.8h0M112.0 646.5h0M128.0 648.6h0M129.9 647.3h0M115.9 646.0h0M91.6 644.7h0M56.2 644.5h0M72.5 646.1h0M72.5 646.3h0M93.1 647.2h0M177.9 645.4h0M81.4 646.4h0M95.5 645.1h0M84.2 643.4h0M115.5 646.0h0M170.2 648.2h0M161.4 647.3h0M85.1 648.1h0M68.6 647.8h0M160.8 644.1h0M102.5 645.7h0M131.1 648.2h0M39.7 645.0h0M158.1 644.1h0M75.5 646.5h0M102.6 647.0h0M58.3 646.5h0M91.5 645.6h0M152.3 645.1h0M152.3 644.3h0M99.5 644.2h0M143.4 644.3h0M97.1 644.0h0M84.5 645.0h0M110.2 648.3h0M58.8 646.2h0M76.0 645.5h0M134.2 646.6h0M143.8 644.7h0M37.3 646.5h0M138.1 647.4h0M150.8 643.9h0M95.2 645.0h0M38.1 645.7h0M130.7 644.6h0M65.5 644.4h0M124.8 645.5h0M85.0 649.6h0M123.9 647.0h0M67.3 646.7h0M99.9 647.4h0M107.1 645.7h0M122.9 644.2h0M59.1 646.7h0M172.3 647.7h0M71.9 643.0h0M74.5 646.7h0M67.0 647.8h0M38.9 645.7h0M91.9 645.4h0M144.0 647.0h0M134.7 644.8h0M58.0 646.7h0M49.2 647.4h0M76.8 645.7h0M143.4 644.9h0M101.6 646.9h0M166.5 645.5h0M126.7 646.1h0M121.4 641.8h0M143.3 647.0h0M140.7 644.0h0M80.1 646.1h0M67.1 646.2h0M94.1 644.9h0M101.8 644.7h0M49.9 644.1h0M94.6 645.5h0M124.3 646.9h0M49.0 646.8h0M49.4 645.3h0M54.7 645.1h0M71.1 643.9h0M172.3 645.4h0M32.6 644.4h0M56.2 643.8h0M53.4 645.8h0M99.6 648.2h0M31.0 647.7h0M97.2 648.1h0M53.1 643.7h0M69.0 647.2h0M147.0 644.2h0M56.3 645.1h0M120.9 643.5h0M89.4 644.5h0M91.1 646.2h0M150.7 646.3h0M52.8 645.9h0M166.6 645.7h0M162.1 646.8h0M128.5 646.0h0M36.2 643.6h0M127.8 648.5h0M118.4 645.6h0M144.0 647.3h0M60.7 645.7h0M171.0 644.8h0M161.0 646.1h0M45.9 644.9h0M75.8 648.3h0M33.6 644.4h0M152.8 646.9h0M165.3 645.1h0M176.5 645.7h0M120.1 649.8h0M128.2 647.1h0M130.0 645.7h0M113.9 643.7h0M170.9 645.6h0M119.5 645.6h0M78.9 648.1h0M105.3 643.9h0M31.6 643.3h0M136.8 646.0h0M132.3 646.3h0M91.6 648.4h0M155.8 644.7h0M141.5 642.0h0M79.0 644.9h0M40.4 644.1h0M48.5 645.2h0M56.3 647.4h0M74.1 644.0h0M95.6 647.8h0M167.3 646.3h0M70.3 645.6h0M162.9 644.7h0M130.3 645.4h0M156.1 645.4h0M89.0 647.1h0M29.3 647.9h0M146.2 645.9h0M65.4 647.0h0M50.1 647.9h0M148.1 647.9h0M131.2 646.7h0M60.5 648.7h0M68.7 648.0h0M168.9 648.4h0M68.9 645.7h0M133.6 645.4h0M48.1 643.0h0M150.4 648.2h0M46.3 647.0h0M105.8 644.7h0M34.1 646.3h0M110.9 646.5h0M155.1 643.5h0M41.4 646.5h0M69.7 647.7h0M142.9 647.9h0M119.5 645.5h0M75.5 645.6h0M122.6 648.0h0M96.6 647.4h0M157.5 645.2h0M72.5 645.2h0M141.9 646.9h0M123.6 645.1h0M139.3 645.2h0M85.2 648.6h0M137.0 646.5h0M133.0 645.4h0M86.6 646.8h0M32.7 649.1h0M172.5 646.4h0M135.3 644.9h0M59.3 643.7h0M137.8 649.2h0M70.4 642.2h0M98.8 647.7h0M157.1 644.6h0M95.7 644.2h0M71.8 644.6h0M74.4 645.8h0M40.3 647.7h0M61.6 645.1h0M69.2 647.1h0M54.6 649.7h0M38.2 641.8h0M98.3 645.0h0M60.8 643.3h0M139.0 647.3h0M166.4 643.8h0M69.5 643.7h0M114.2 643.7h0M104.4 646.0h0M40.0 647.8h0M47.4 646.3h0M160.8 649.2h0M99.5 648.5h0M148.8 645.9h0M38.7 647.5h0M117.5 646.2h0M157.9 646.2h0M158.2 643.2h0M29.7 644.1h0M106.6 646.1h0M83.9 644.2h0M142.2 647.1h0M39.7 646.5h0M68.3 644.7h0M150.0 647.8h0M98.9 646.4h0M96.4 647.9h0M173.3 645.8h0M76.5 643.6h0M35.0 647.1h0M87.3 645.7h0M51.7 647.3h0M41.0 647.7h0M113.5 647.8h0M171.1 643.9h0M115.2 642.5h0M125.3 645.3h0M77.1 647.1h0M114.0 645.0h0M141.0 646.5h0M116.7 644.8h0M148.6 645.6h0M110.9 645.6h0M58.4 645.1h0M115.7 646.9h0M102.0 646.6h0M53.6 648.5h0M121.2 646.6h0M150.7 648.1h0M49.0 646.2h0M110.1 647.4h0M138.3 645.9h0M88.9 645.3h0M69.1 648.1h0M84.3 647.2h0M109.6 647.4h0M131.2 644.9h0M112.2 643.5h0M44.8 644.7h0M150.8 646.5h0M166.6 643.8h0M43.9 648.2h0M66.0 643.8h0M54.7 647.0h0M155.5 650.1h0M164.6 642.1h0M35.4 643.7h0M78.4 647.5h0M57.5 645.8h0M98.9 646.3h0M166.3 645.8h0M39.3 648.2h0M54.4 647.0h0M101.5 645.3h0M107.0 645.7h0M140.0 644.2h0M94.1 645.9h0M49.9 642.5h0M81.6 647.1h0M175.3 645.6h0M140.8 648.8h0M46.2 647.8h0M149.4 644.0h0M75.2 647.4h0M145.4 645.2h0M30.7 646.1h0M158.8 647.5h0M53.0 646.5h0M96.8 646.8h0M127.5 646.7h0M104.6 644.9h0M53.5 645.0h0M49.6 646.8h0M71.3 647.3h0M36.6 645.6h0M61.1 646.1h0M48.2 644.5h0M98.1 642.1h0M82.0 644.8h0M116.4 646.1h0M70.7 646.3h0M33.9 647.3h0M78.2 647.3h0M141.5 647.5h0M67.0 646.6h0M89.2 646.6h0M141.4 644.9h0M89.5 646.6h0M161.2 646.3h0M165.8 647.8h0M75.1 643.6h0M138.6 645.3h0M66.6 643.4h0M49.6 644.8h0M94.1 643.8h0M118.7 646.4h0M168.4 644.9h0M50.6 642.0h0M135.1 647.8h0M99.7 644.3h0M48.5 643.5h0M173.9 645.4h0M132.6 644.9h0M48.0 644.1h0M163.9 647.0h0M44.2 645.4h0M42.6 647.3h0M78.3 647.0h0M168.7 646.9h0M33.7 646.2h0M165.8 645.8h0M120.1 645.3h0M38.8 648.1h0M113.6 643.0h0M97.3 644.3h0M112.9 644.9h0M138.8 646.5h0M130.0 646.1h0M177.6 645.2h0M52.2 645.4h0M150.1 648.5h0M90.1 644.9h0M145.7 641.6h0M161.9 648.8h0M176.8 644.5h0M68.5 645.4h0M96.4 646.2h0M169.5 643.9h0M169.9 647.8h0M84.4 645.8h0M169.1 643.8h0M89.4 646.3h0M84.7 646.6h0M141.7 645.8h0M99.1 646.7h0M95.7 643.7h0M86.4 647.4h0M93.4 644.7h0M49.7 647.9h0M37.9 645.0h0M141.3 646.2h0M113.0 649.9h0M129.0 646.0h0M148.5 647.6h0M63.1 646.7h0M63.7 643.7h0M70.3 647.7h0M74.1 647.6h0M142.3 643.8h0M84.6 645.8h0M77.0 643.7h0M123.7 645.5h0M56.6 647.3h0M44.7 646.1h0M132.8 644.1h0M141.7 644.6h0M73.0 646.0h0M123.7 645.9h0M33.9 646.2h0M89.1 646.9h0M115.0 643.1h0M66.6 646.0h0M80.8 647.7h0M119.7 646.7h0M116.8 644.9h0M51.8 645.0h0M134.2 646.2h0M40.7 647.0h0M173.5 646.0h0M59.0 648.5h0M181.5 659.6h0M179.4 655.4h0M183.6 657.6h0M181.6 657.0h0M181.2 656.3h0M183.0 657.0h0M183.3 654.3h0M183.9 657.5h0M183.7 654.9h0M182.7 653.9h0M183.0 656.7h0M179.1 653.0h0M182.9 651.0h0M179.8 652.8h0M179.8 655.2h0M178.8 653.4h0M180.8 656.2h0M178.1 652.3h0M182.6 652.7h0M183.2 657.0h0M183.4 655.6h0M178.9 650.6h0M182.5 655.9h0M183.9 654.9h0M178.3 655.4h0M179.4 655.4h0M179.9 654.9h0M181.2 649.1h0M179.2 654.3h0M181.8 655.7h0M180.4 655.2h0M182.6 655.2h0M181.7 652.9h0M182.8 654.4h0M179.7 648.7h0M192.2 639.6h0M194.8 639.9h0M190.4 640.5h0M191.3 645.3h0M196.8 640.6h0M185.3 640.4h0M188.8 642.8h0M189.1 641.1h0M198.9 644.8h0M188.2 640.0h0M185.7 642.9h0M190.8 639.3h0M194.1 644.3h0M187.1 640.1h0M196.8 640.8h0M187.8 639.8h0M194.9 642.4h0M187.3 642.6h0M197.3 635.9h0M187.8 643.0h0M195.2 641.9h0M196.7 640.9h0M188.6 643.3h0M186.3 639.2h0M193.2 637.4h0M192.0 642.3h0M191.7 644.3h0M195.9 638.2h0M191.5 638.8h0M192.0 639.3h0M191.8 638.7h0M191.4 642.7h0M190.7 641.4h0M187.3 644.1h0M189.1 644.0h0M188.7 639.3h0M188.5 642.6h0M196.0 636.0h0M186.6 641.4h0M187.9 642.6h0M192.4 639.3h0M189.4 637.7h0M188.4 640.4h0M190.2 643.5h0M192.0 640.2h0M194.4 637.9h0M198.6 641.1h0M196.9 641.9h0M191.0 639.0h0M191.3 640.7h0M190.8 643.2h0M188.3 642.1h0M198.3 641.7h0M186.0 641.0h0M187.9 641.2h0M194.3 638.4h0M193.3 639.4h0M188.9 644.3h0M198.1 639.4h0M190.7 639.3h0M193.3 639.9h0M186.3 639.5h0M197.5 641.4h0M186.4 643.4h0M190.5 639.2h0M197.4 642.4h0M198.2 644.4h0M197.7 638.3h0M196.6 641.8h0M188.3 641.9h0M221.4 646.2h0M215.4 646.4h0M221.5 645.5h0M205.4 647.3h0M211.0 646.7h0M203.9 646.1h0M200.9 646.8h0M209.1 646.2h0M215.6 646.9h0M216.9 643.1h0M199.4 644.0h0M220.7 645.3h0M204.7 646.1h0M205.7 642.8h0M218.1 645.5h0M219.6 646.1h0M215.9 645.6h0M206.7 645.6h0M209.6 643.9h0M218.2 646.0h0M207.2 642.9h0M217.5 647.3h0M217.0 645.0h0M209.8 647.5h0M219.6 643.3h0M207.8 646.5h0M216.2 646.1h0M213.7 644.6h0M206.6 644.2h0M211.2 647.6h0M212.9 646.5h0M211.3 648.1h0M201.5 645.8h0M221.8 646.1h0M221.2 646.5h0M199.9 647.0h0M220.7 646.6h0M211.2 647.1h0M201.9 645.2h0M217.9 643.8h0M209.0 648.8h0M215.4 646.2h0M218.0 646.6h0M211.4 645.3h0M200.1 647.4h0M217.9 646.2h0M215.0 647.5h0M219.9 645.0h0M205.2 645.9h0M217.1 646.2h0M219.1 645.5h0M207.2 646.4h0M208.4 648.3h0M206.7 645.1h0M199.1 645.6h0M204.3 646.2h0M206.6 644.6h0M201.5 644.2h0M216.6 647.6h0M208.8 647.1h0M212.1 643.7h0M205.5 643.9h0M207.3 647.1h0M216.3 647.7h0M209.8 646.9h0M212.7 646.7h0M208.7 648.3h0M211.8 646.0h0M219.6 647.9h0M205.2 647.8h0M210.9 644.7h0M214.8 647.0h0M201.0 646.1h0M221.1 645.1h0M210.5 644.8h0M204.6 646.5h0M216.5 645.9h0M217.8 647.2h0M213.5 643.4h0M220.1 645.0h0M201.0 647.6h0M211.1 646.0h0M216.1 645.0h0M220.1 645.3h0M213.8 643.3h0M212.9 644.0h0M207.9 646.8h0M212.1 646.1h0M211.8 647.9h0M219.8 645.6h0M218.0 645.8h0M216.0 642.0h0M220.2 645.9h0M200.5 649.1h0M216.7 647.0h0M209.7 645.8h0M216.3 647.8h0M205.8 647.3h0M209.7 646.5h0M218.0 645.5h0M199.8 646.2h0M205.7 647.3h0M210.2 644.8h0M218.6 646.8h0M205.2 646.7h0M217.9 648.0h0M204.6 647.2h0M206.0 645.0h0M211.7 648.4h0M214.0 646.1h0M219.2 644.9h0M219.2 646.6h0M204.8 645.6h0M216.1 647.6h0M213.6 644.1h0M228.7 658.4h0M225.1 654.3h0M230.6 660.3h0M224.1 653.9h0M226.3 654.6h0M223.2 655.9h0M228.5 657.9h0M222.9 657.8h0M223.8 649.1h0M229.7 659.0h0M227.0 650.5h0M228.6 653.5h0M229.3 656.3h0M228.1 658.2h0M224.0 651.4h0M229.0 650.5h0M223.2 656.6h0M224.7 655.2h0M226.5 651.8h0M223.1 653.1h0M223.1 648.6h0M228.5 656.7h0M229.4 653.8h0M225.7 658.0h0M225.9 648.9h0M224.1 656.3h0M227.2 660.9h0M227.8 655.3h0M231.3 656.1h0M222.4 648.7h0M231.1 656.6h0M231.9 655.8h0M225.5 652.9h0M229.3 650.9h0M230.2 655.6h0M228.5 652.3h0M224.9 653.0h0M228.2 655.9h0M230.8 655.3h0M223.1 654.0h0M226.8 657.3h0M222.2 650.6h0M230.4 659.3h0M229.8 652.2h0M222.5 651.3h0M229.5 655.6h0M228.9 657.3h0M223.3 654.7h0M227.3 653.6h0M228.9 653.2h0M234.7 645.7h0M235.7 642.6h0M232.6 643.2h0M236.9 640.7h0M236.0 644.7h0M232.7 646.8h0M233.2 646.0h0M234.9 643.8h0M235.8 640.8h0M232.7 647.9h0M236.8 641.3h0M233.7 643.4h0M237.0 641.0h0M235.8 642.1h0M234.4 641.1h0M233.8 643.6h0M232.5 643.9h0M232.4 644.6h0M235.1 640.0h0M235.9 646.7h0M236.5 639.9h0M233.8 645.1h0M236.7 642.9h0M233.5 646.7h0M236.7 646.0h0M237.6 638.3h0M240.8 642.0h0M248.8 638.3h0M249.9 641.7h0M248.1 640.5h0M239.2 644.7h0M246.9 640.7h0M242.9 640.5h0M239.2 642.3h0M243.3 642.0h0M249.0 636.5h0M248.4 642.6h0M242.1 642.8h0M237.8 642.6h0M248.7 637.9h0M249.8 636.0h0M243.6 639.9h0M239.9 642.3h0M244.1 641.4h0M246.1 638.3h0M243.3 642.4h0M241.6 637.9h0M240.2 638.1h0M240.9 640.7h0M237.6 639.8h0M240.3 639.4h0M249.4 637.1h0M237.1 643.2h0M246.5 638.1h0M247.3 641.1h0M242.3 642.2h0M244.7 640.3h0M239.9 641.3h0M245.7 642.4h0M246.2 643.5h0M246.5 642.2h0M243.4 637.8h0M249.6 636.3h0M248.3 639.0h0M244.4 638.2h0M245.9 641.4h0M240.6 641.0h0M249.3 639.6h0M245.4 642.6h0M248.6 642.2h0M240.8 640.6h0M249.8 640.8h0M238.4 643.1h0M243.9 639.8h0M238.4 641.5h0M239.5 638.9h0M246.9 640.4h0M237.9 641.6h0M242.0 640.5h0M239.5 641.2h0M248.1 641.6h0M238.1 641.8h0M241.4 639.3h0M248.1 639.0h0M245.9 637.9h0M246.1 643.7h0M249.9 640.9h0M237.3 641.9h0M245.6 640.1h0M246.7 641.3h0M254.3 644.0h0M250.5 641.2h0M250.1 641.5h0M255.0 643.0h0M252.4 640.8h0M254.9 643.4h0M255.5 645.5h0M255.8 645.9h0M254.3 640.3h0M255.9 645.0h0M254.6 644.3h0M256.5 641.9h0M256.3 642.5h0M250.3 640.2h0M251.9 642.9h0M252.7 638.0h0M251.8 641.3h0M251.2 640.7h0M256.1 644.9h0M250.2 644.0h0M251.3 644.4h0M255.3 643.3h0M251.6 641.2h0M251.8 642.6h0M256.8 647.2h0M255.3 646.9h0M253.1 643.5h0M251.0 644.5h0M251.9 640.4h0M256.9 642.7h0M255.5 638.7h0M250.5 639.7h0M254.9 645.0h0M252.6 644.3h0M255.0 650.7h0M355.5 648.3h0M320.0 647.4h0M465.9 648.4h0M446.1 644.4h0M461.3 645.1h0M350.9 645.0h0M325.7 647.3h0M314.7 647.7h0M465.9 645.9h0M477.7 645.9h0M345.1 647.3h0M466.9 645.8h0M348.5 645.1h0M364.5 645.7h0M393.0 647.5h0M310.1 649.1h0M321.2 646.4h0M321.0 645.8h0M319.4 646.4h0M380.7 646.6h0M281.1 647.0h0M444.3 644.9h0M299.0 646.1h0M363.6 645.8h0M411.0 647.4h0M290.1 646.9h0M355.2 645.8h0M392.2 647.5h0M389.1 647.9h0M471.2 646.5h0M445.4 644.2h0M286.0 645.7h0M457.0 643.9h0M389.0 646.2h0M419.8 646.5h0M295.4 648.0h0M370.3 646.8h0M425.0 643.9h0M448.4 645.5h0M450.4 644.9h0M309.1 645.0h0M456.9 646.0h0M393.4 646.3h0M417.5 645.8h0M461.4 645.0h0M354.3 645.3h0M477.7 645.3h0M468.5 645.8h0M450.9 647.1h0M348.2 646.4h0M383.8 647.4h0M298.5 644.5h0M439.2 649.1h0M470.8 646.3h0M295.6 642.5h0M435.7 646.5h0M423.6 647.7h0M265.8 646.0h0M477.1 644.1h0M372.0 646.2h0M321.6 645.1h0M264.2 645.9h0M444.6 646.5h0M338.1 641.4h0M380.2 645.9h0M303.7 646.8h0M402.7 646.7h0M352.3 645.4h0M450.6 645.4h0M416.9 644.9h0M430.2 645.8h0M317.3 648.1h0M272.3 645.2h0M468.2 646.5h0M481.6 646.4h0M411.4 648.2h0M478.2 646.8h0M426.5 647.1h0M402.4 646.1h0M357.6 648.1h0M342.3 645.9h0M374.5 645.8h0M310.4 647.6h0M359.6 646.9h0M378.8 647.3h0M264.5 644.7h0M351.5 649.7h0M325.3 646.5h0M409.2 648.4h0M451.8 646.6h0M404.5 644.8h0M416.3 646.9h0M404.3 645.8h0M318.5 647.2h0M347.3 643.1h0M459.6 644.7h0M484.0 644.3h0M300.5 648.0h0M259.5 647.6h0M487.8 644.4h0M463.3 646.3h0M402.8 646.4h0M453.1 645.5h0M399.6 647.8h0M474.2 644.9h0M315.4 646.0h0M363.6 645.3h0M417.9 647.0h0M308.8 645.2h0M428.6 647.0h0M320.0 644.6h0M427.4 644.3h0M450.0 644.7h0M358.8 645.2h0M494.6 645.1h0M408.5 650.0h0M438.6 644.8h0M261.9 646.4h0M284.1 645.9h0M427.8 646.4h0M483.3 648.0h0M407.8 646.8h0M476.1 645.0h0M271.2 643.9h0M471.0 646.9h0M467.6 647.3h0M407.9 643.9h0M360.1 647.3h0M426.2 643.0h0M315.5 645.9h0M417.2 647.3h0M423.6 644.6h0M386.6 643.5h0M319.4 648.1h0M257.5 643.7h0M304.0 646.4h0M457.1 643.8h0M307.9 646.6h0M274.8 648.3h0M316.2 645.3h0M381.6 644.6h0M397.7 642.9h0M467.5 643.5h0M462.1 645.0h0M489.5 646.3h0M469.2 646.8h0M365.1 646.4h0M291.1 647.2h0M486.4 646.4h0M311.9 649.7h0M406.3 645.7h0M320.5 646.0h0M453.0 642.2h0M305.2 644.9h0M358.0 646.7h0M309.7 645.2h0M463.5 647.8h0M405.7 646.9h0M408.4 648.7h0M332.5 643.9h0M299.4 645.1h0M462.8 647.7h0M440.5 646.1h0M433.3 644.6h0M496.3 645.3h0M391.3 645.4h0M299.9 647.3h0M403.3 646.9h0M326.0 645.9h0M380.1 644.6h0M367.2 647.2h0M392.2 647.6h0M478.1 644.3h0M451.4 647.4h0M356.6 644.4h0M453.2 645.6h0M463.5 644.7h0M442.8 643.4h0M389.3 645.0h0M472.8 644.9h0M375.1 647.3h0M282.4 647.0h0M322.3 645.1h0M414.8 643.7h0M348.0 644.0h0M358.5 642.6h0M353.5 645.5h0M303.1 645.7h0M279.4 644.5h0M268.8 646.0h0M418.4 646.1h0M334.8 647.5h0M366.6 644.5h0M481.4 647.6h0M407.4 645.2h0M451.6 648.1h0M440.0 644.4h0M485.9 647.5h0M273.0 644.8h0M349.2 648.3h0M484.9 646.6h0M368.5 644.3h0M484.5 647.2h0M301.4 645.9h0M271.5 646.7h0M471.9 649.4h0M355.7 645.5h0M379.0 645.4h0M481.7 647.6h0M309.7 645.2h0M489.4 647.2h0M352.2 647.5h0M316.4 646.0h0M313.1 647.0h0M381.4 642.6h0M369.1 648.3h0M469.7 644.9h0M269.2 644.5h0M267.6 648.9h0M293.7 648.5h0M402.4 645.2h0M444.5 646.7h0M372.2 645.4h0M404.3 644.3h0M411.2 646.5h0M261.6 647.6h0M316.1 650.0h0M496.5 645.7h0M336.4 647.4h0M484.2 645.5h0M375.1 645.7h0M310.4 648.0h0M257.6 643.5h0M309.2 644.4h0M334.2 644.8h0M362.4 647.7h0M364.3 646.6h0M388.6 646.8h0M370.8 646.6h0M264.9 647.7h0M321.1 645.4h0M487.9 645.7h0M263.6 645.5h0M433.2 646.7h0M371.3 644.1h0M426.7 645.7h0M336.8 650.0h0M345.8 646.9h0M381.0 646.1h0M475.3 644.6h0M335.8 646.4h0M277.6 646.4h0M266.2 647.0h0M468.6 645.0h0M332.3 646.7h0M285.7 646.9h0M400.1 647.1h0M459.8 645.2h0M400.9 646.8h0M293.4 648.5h0M354.4 645.1h0M321.0 647.0h0M261.0 645.5h0M488.8 645.5h0M367.2 644.2h0M289.3 644.5h0M469.4 646.8h0M493.4 646.2h0M452.8 647.9h0M317.9 643.5h0M302.7 645.4h0M383.0 644.0h0M397.0 646.5h0M467.8 649.0h0M489.1 643.7h0M475.5 645.9h0M339.1 645.8h0M397.5 645.9h0M286.7 645.1h0M381.5 645.2h0M274.0 648.3h0M283.7 644.4h0M286.3 646.8h0M329.3 646.7h0M331.3 643.5h0M426.2 644.6h0M275.2 646.5h0M283.7 648.7h0M414.5 645.8h0M418.5 645.2h0M427.5 646.1h0M429.8 647.8h0M416.1 647.2h0M389.6 647.8h0M434.9 645.7h0M276.6 644.8h0M307.8 644.5h0M434.9 647.1h0M303.2 645.7h0M384.4 645.2h0M319.5 646.8h0M360.5 646.2h0M457.2 642.9h0M415.6 645.7h0M363.8 644.7h0M322.6 646.6h0M450.2 645.9h0M414.7 648.5h0M362.6 646.0h0M465.6 644.2h0M423.2 642.9h0M492.3 644.2h0M416.5 645.0h0M473.0 645.9h0M389.1 646.9h0M427.4 646.2h0M459.2 645.1h0M278.7 647.2h0M370.8 644.6h0M402.3 647.4h0M270.9 648.6h0M446.4 647.5h0M428.7 648.4h0M481.7 648.0h0M346.3 644.3h0M369.6 646.3h0M475.9 645.7h0M355.8 644.3h0M457.2 644.1h0M358.1 646.7h0M338.1 644.0h0M323.5 645.4h0M308.2 646.0h0M360.5 645.4h0M295.8 648.1h0M455.7 647.2h0M490.9 646.2h0M280.4 645.1h0M270.2 646.5h0M257.9 646.2h0M480.7 644.6h0M274.7 643.9h0M420.2 644.9h0M329.9 644.1h0M304.6 646.6h0M316.1 646.5h0M422.5 645.5h0M261.3 646.4h0M464.6 646.7h0M393.3 643.6h0M313.5 646.3h0M307.0 647.4h0M414.1 645.3h0M408.0 643.3h0M333.3 645.9h0M337.2 644.2h0M368.2 646.6h0M475.5 646.7h0M386.2 647.0h0M458.6 646.2h0M410.8 643.3h0M391.9 647.7h0M374.5 643.6h0M420.4 647.5h0M375.0 646.3h0M431.2 644.8h0M300.7 645.1h0M334.4 645.6h0M466.6 648.4h0M351.9 645.5h0M459.3 647.5h0M482.1 642.2h0M395.8 646.3h0M281.4 645.7h0M438.7 647.7h0M416.8 646.7h0M326.8 647.9h0M464.1 644.6h0M372.9 646.4h0M270.7 645.2h0M273.3 647.0h0M311.8 646.7h0M403.4 644.1h0M452.6 647.4h0M280.8 648.6h0M262.4 645.4h0M406.4 647.7h0M355.3 646.6h0M363.0 644.7h0M454.0 647.2h0M477.6 644.7h0M489.1 647.0h0M444.0 643.8h0M257.8 644.1h0M293.1 646.7h0M397.9 646.3h0M486.3 647.2h0M276.5 645.7h0M380.6 644.3h0M352.2 648.1h0M354.6 644.7h0M321.5 647.9h0M322.0 647.3h0M314.2 648.6h0M281.8 642.9h0M390.0 645.9h0M364.0 645.6h0M428.1 647.0h0M410.6 644.4h0M485.7 649.1h0M338.5 646.0h0M468.8 642.8h0M349.3 646.6h0M415.6 646.0h0M450.2 645.0h0M352.2 647.2h0M364.1 646.0h0M408.5 644.6h0M283.6 645.7h0M384.6 645.5h0M279.8 646.5h0M311.0 645.5h0M406.5 645.9h0M490.3 643.9h0M496.8 644.9h0M319.6 646.4h0M292.1 649.6h0M381.5 644.9h0M362.9 644.9h0M348.1 647.3h0M441.4 648.9h0M427.3 647.7h0M391.8 644.6h0M406.2 647.6h0M396.6 646.7h0M419.4 645.7h0M479.7 644.2h0M484.2 646.0h0M492.1 646.1h0M463.3 646.8h0M282.1 643.6h0M365.4 644.4h0M444.6 646.1h0M327.6 648.1h0M402.6 647.2h0M270.3 645.1h0M305.9 647.1h0M353.1 644.7h0M273.8 645.5h0M358.8 645.6h0M312.2 645.0h0M463.8 645.3h0M333.5 647.3h0M348.4 646.5h0M449.5 642.6h0M391.3 647.8h0M269.0 646.7h0M309.2 644.4h0M403.6 646.2h0M304.8 647.2h0M316.6 647.9h0M406.5 645.2h0M375.7 644.5h0M321.6 643.9h0M391.2 645.9h0M409.1 644.5h0M266.4 647.5h0M322.7 645.8h0M330.9 647.0h0M467.9 645.7h0M269.3 644.9h0M340.3 644.4h0M303.7 647.5h0M423.8 644.1h0M451.7 646.7h0M270.8 647.5h0M464.2 646.3h0M424.0 648.1h0M309.1 646.0h0M476.8 645.6h0M327.3 646.3h0M446.2 645.2h0M275.0 646.5h0M366.5 646.0h0M378.4 648.1h0M472.2 645.9h0M457.8 647.3h0M388.1 646.7h0M269.4 646.1h0M360.2 645.7h0M347.1 648.4h0M495.9 648.3h0M420.4 646.4h0M354.2 645.3h0M344.6 645.5h0M441.2 644.7h0M280.0 644.1h0M453.1 645.3h0M418.0 646.0h0M361.5 647.5h0M427.5 647.4h0M352.5 646.7h0M291.4 645.6h0M357.1 645.7h0M269.3 646.0h0M277.9 646.2h0M362.4 645.1h0M455.0 645.7h0M305.9 645.6h0M377.2 645.5h0M491.9 646.8h0M455.6 647.5h0M473.5 645.3h0M419.0 645.4h0M398.4 646.3h0M396.6 646.6h0M401.3 642.7h0M368.6 647.1h0M343.6 646.3h0M314.3 645.6h0M272.7 647.7h0M345.6 645.8h0M441.8 643.4h0M389.6 644.6h0M296.4 645.1h0M452.4 645.1h0M267.0 645.8h0M480.5 644.6h0M413.4 646.2h0M390.5 646.6h0M356.0 645.8h0M455.0 644.7h0M258.6 645.5h0M260.8 645.0h0M381.9 649.0h0M328.3 644.2h0M353.4 642.6h0M385.8 644.0h0M267.5 646.5h0M492.9 647.2h0M419.6 645.6h0M280.7 647.5h0M434.3 644.9h0M384.9 646.8h0M421.9 644.6h0M434.1 644.0h0M494.9 649.0h0M285.4 645.6h0M496.1 647.0h0M371.4 648.1h0M305.2 646.9h0M346.7 646.3h0M344.4 644.5h0M471.9 648.2h0M382.8 644.5h0M273.0 643.0h0M428.6 645.1h0M376.5 645.2h0M452.5 646.0h0M268.1 647.7h0M464.6 645.2h0M471.3 645.4h0M259.0 644.9h0M371.5 642.2h0M286.2 644.9h0M384.1 645.4h0M278.4 643.7h0M469.9 648.0h0M301.1 647.7h0M417.4 646.6h0M413.9 647.0h0M334.0 645.0h0M308.5 646.5h0M476.7 643.4h0M266.6 643.8h0M318.0 644.9h0M335.4 646.6h0M397.2 645.1h0M345.6 644.8h0M283.7 647.6h0M393.9 645.5h0M430.8 645.0h0M426.1 645.7h0M374.5 643.7h0M330.6 644.2h0M259.5 647.2h0M384.9 645.8h0M407.9 647.2h0M362.9 645.1h0M487.2 647.3h0M305.5 644.6h0M452.4 645.4h0M429.5 644.6h0M472.8 646.2h0M478.9 648.1h0M313.8 643.4h0M478.2 646.3h0M353.8 644.0h0M420.0 645.4h0M485.7 645.0h0M399.9 643.3h0M396.9 645.5h0M274.0 643.9h0M400.2 648.2h0M314.9 644.7h0M350.2 646.4h0M347.7 646.2h0M490.6 646.0h0M410.1 645.5h0M431.0 643.6h0M298.5 648.7h0M330.0 645.9h0M467.6 647.1h0M285.9 644.3h0M485.7 646.6h0M359.6 645.3h0M350.6 646.6h0M380.5 645.0h0M363.4 644.5h0M369.9 646.6h0M358.8 645.9h0M425.4 648.1h0M323.3 645.6h0M297.0 644.7h0M361.3 646.8h0M278.2 644.4h0M364.4 649.0h0M375.6 648.7h0M445.2 648.0h0M283.2 646.7h0M352.3 646.0h0M444.3 646.1h0M338.2 646.1h0M457.7 644.9h0M429.4 646.7h0M267.0 647.9h0M349.5 647.8h0M440.9 642.9h0M383.4 649.5h0M418.5 646.3h0M494.6 643.9h0M419.1 645.3h0M388.1 647.2h0M460.1 646.0h0M360.3 644.7h0M259.5 644.2h0M322.4 647.3h0M399.7 644.9h0M484.6 645.6h0M402.7 644.4h0M325.1 644.0h0M495.4 646.5h0M353.0 648.1h0M311.7 645.4h0M389.7 643.4h0M339.6 645.0h0M283.8 645.7h0M428.1 642.5h0M423.0 647.5h0M490.3 644.7h0M289.8 646.8h0M475.5 645.9h0M448.3 645.9h0M317.7 643.8h0M372.0 647.4h0M408.2 646.8h0M332.6 648.3h0M282.8 645.3h0M457.9 646.7h0M296.5 645.4h0M374.8 647.6h0M362.0 646.5h0M473.7 644.5h0M391.1 646.3h0M358.9 645.1h0M491.4 645.2h0M341.6 646.5h0M431.4 648.3h0M313.1 644.6h0M438.7 645.7h0M437.3 644.6h0M455.8 649.0h0M373.3 648.4h0M310.3 649.1h0M408.7 647.3h0M475.5 644.5h0M331.4 645.2h0M261.8 646.1h0M301.4 645.8h0M480.9 644.9h0M258.5 646.4h0M269.9 645.4h0M280.6 645.8h0M471.0 649.2h0M349.0 646.6h0M423.0 644.0h0M426.4 646.6h0M361.2 646.2h0M432.8 646.9h0M367.7 646.7h0M387.0 644.3h0M330.6 646.4h0M257.5 647.5h0M399.4 650.6h0M320.8 646.8h0M323.0 648.9h0M467.9 648.7h0M343.8 644.8h0M281.6 645.0h0M408.3 648.8h0M386.2 644.7h0M270.8 645.3h0M340.7 647.2h0M403.7 644.9h0M324.1 648.4h0M493.7 647.8h0M448.8 648.1h0M378.0 647.6h0M476.7 644.7h0M265.3 648.0h0M310.9 647.7h0M476.6 647.4h0M379.1 645.7h0M297.8 646.5h0M393.8 644.7h0M432.3 647.0h0M401.8 647.9h0M268.0 646.7h0M265.8 645.9h0M354.7 647.4h0M260.9 645.6h0M277.2 643.3h0M411.2 646.9h0M362.2 645.9h0M277.5 644.0h0M467.3 647.0h0M345.4 647.3h0M469.0 647.6h0M403.2 645.4h0M406.0 645.3h0M358.8 646.2h0M418.3 646.0h0M315.4 644.2h0M318.8 644.8h0M467.0 648.1h0M305.9 646.0h0M349.7 645.9h0M435.7 645.0h0M336.2 646.4h0M344.8 647.0h0M475.2 646.7h0M306.6 648.7h0M314.9 646.1h0M469.8 646.9h0M323.1 645.4h0M336.3 647.6h0M468.7 646.7h0M334.1 647.5h0M496.3 647.6h0M454.1 645.0h0M460.2 646.7h0M311.2 645.4h0M309.1 647.7h0M437.6 645.9h0M455.4 648.5h0M310.9 646.8h0M306.4 646.8h0M315.5 645.2h0M290.0 645.8h0M358.1 646.3h0M377.7 644.8h0M407.8 645.8h0M270.3 645.3h0M303.1 644.9h0M285.1 646.2h0M321.8 646.5h0M301.6 645.6h0M481.7 646.7h0M346.6 645.5h0M290.3 644.4h0M416.9 644.8h0M490.5 646.6h0M447.7 648.0h0M412.6 646.1h0M347.8 646.3h0M353.8 644.4h0M329.5 646.6h0M450.5 646.4h0M449.8 645.0h0M374.5 646.8h0M463.9 646.3h0M413.5 643.6h0M421.5 643.9h0M321.5 645.1h0M315.0 645.7h0M311.7 647.5h0M476.0 645.2h0M449.1 646.0h0M472.8 645.7h0M454.5 646.8h0M450.2 646.1h0M361.7 646.3h0M440.7 645.6h0M297.0 644.0h0M414.4 645.5h0M267.3 648.5h0M488.8 647.5h0M468.1 648.4h0M296.6 647.2h0M441.5 645.2h0M454.7 645.5h0M267.1 646.9h0M392.9 645.7h0M357.8 647.2h0M405.5 648.2h0M469.7 648.1h0M430.5 647.3h0M307.7 644.0h0M390.1 648.0h0M391.8 644.2h0M259.7 644.1h0M288.6 646.3h0M343.3 646.1h0M299.7 647.0h0M313.9 646.1h0M419.3 645.1h0M487.7 646.1h0M366.9 644.6h0M412.1 644.3h0M439.7 645.6h0M418.5 645.6h0M414.7 646.2h0M257.3 645.6h0M465.8 647.7h0M295.7 645.5h0M300.3 645.8h0M379.4 647.3h0M397.8 642.9h0M438.3 647.5h0M327.3 647.4h0M483.8 645.7h0M407.8 648.9h0M459.6 647.2h0M371.5 648.3h0M274.1 647.5h0M259.9 646.3h0M410.7 645.6h0M359.3 644.5h0M362.7 644.9h0M335.2 644.3h0M299.8 645.2h0M370.7 646.8h0M318.2 644.4h0M471.3 646.8h0M299.9 647.0h0M489.2 643.8h0M463.5 644.9h0M349.1 645.8h0M442.5 645.0h0M396.4 644.8h0M368.8 648.1h0M451.9 646.2h0M456.4 647.8h0M305.4 645.9h0M474.4 647.1h0M264.7 644.1h0M258.3 645.3h0M373.1 647.3h0M329.3 646.1h0M358.4 647.9h0M372.0 646.0h0M369.4 645.3h0M474.9 645.7h0M477.4 648.9h0M340.1 646.6h0M326.0 645.3h0M414.0 645.6h0M304.6 644.4h0M353.1 648.0h0M429.3 645.3h0M258.4 647.0h0M442.2 645.8h0M433.1 645.5h0M349.9 645.1h0M316.5 646.9h0M386.6 645.8h0M328.0 647.8h0M454.1 648.2h0M398.7 645.3h0M330.6 646.2h0M450.8 648.5h0M402.8 647.3h0M288.7 646.1h0M356.4 643.8h0M374.5 644.5h0M483.7 644.9h0M334.0 648.7h0M364.6 646.2h0M491.4 645.4h0M359.3 645.5h0M455.5 645.5h0M280.3 646.4h0M351.5 643.5h0M301.1 643.9h0M469.2 646.2h0M389.6 647.5h0M309.5 643.1h0M279.1 646.9h0M358.0 644.3h0M280.1 643.3h0M373.5 647.5h0M431.9 645.7h0M331.5 646.6h0M297.2 645.3h0M343.8 645.6h0M296.9 643.2h0M459.5 645.2h0M280.1 646.1h0M434.8 644.4h0M337.1 646.5h0M431.8 646.6h0M442.0 642.8h0M289.4 647.3h0M438.6 646.8h0M483.9 646.0h0M393.1 647.6h0M411.8 649.2h0M334.4 644.5h0M298.9 647.2h0M435.7 646.9h0M453.9 646.6h0M306.5 647.5h0M284.2 647.7h0M341.5 645.9h0M407.3 642.6h0M344.6 645.0h0M488.4 645.0h0M447.0 648.3h0M476.9 646.1h0M400.9 647.8h0M438.4 645.0h0M485.2 646.4h0M265.5 646.0h0M395.0 646.2h0M301.9 646.9h0M447.8 648.3h0M312.8 645.2h0M435.0 648.1h0M336.8 647.8h0M413.4 646.5h0M420.0 647.1h0M475.1 645.7h0M466.4 644.6h0M362.1 645.7h0M422.4 645.8h0M300.8 646.1h0M280.5 644.8h0M428.4 648.8h0M474.6 645.5h0M436.2 647.5h0M381.0 647.9h0M408.1 646.1h0M432.2 646.7h0M393.6 645.2h0M344.1 644.5h0M461.2 649.5h0M345.6 646.2h0M473.9 643.2h0M448.9 644.8h0M447.3 644.0h0M457.1 645.9h0M493.8 648.2h0M494.6 647.7h0M377.3 645.0h0M347.5 644.7h0M433.0 647.2h0M489.3 646.5h0M408.2 645.7h0M263.2 648.7h0M266.3 646.6h0M368.4 643.7h0M446.0 642.9h0M470.0 646.2h0M347.0 643.4h0M381.1 646.9h0M380.1 647.3h0M279.7 649.4h0M257.2 644.7h0M382.7 646.6h0M378.0 642.6h0M464.3 645.6h0M300.6 645.8h0M461.6 648.7h0M322.1 643.9h0M386.4 646.6h0M426.7 646.3h0M291.9 649.3h0M484.1 644.7h0M486.9 644.6h0M489.8 647.0h0M257.5 645.9h0M411.4 645.5h0M418.1 644.7h0M468.2 645.9h0M305.4 643.6h0M286.8 646.4h0M451.3 647.0h0M319.8 646.8h0M272.8 649.8h0M279.1 647.3h0M411.8 644.6h0M385.6 645.7h0M436.5 647.3h0M450.7 645.6h0M257.6 649.0h0M480.9 646.5h0M468.1 645.3h0M480.9 645.1h0M441.5 647.2h0M349.1 644.7h0M316.6 643.3h0M476.0 646.7h0M357.9 645.0h0M374.1 648.4h0M424.6 649.0h0M422.2 645.2h0M423.4 646.0h0M406.7 645.8h0M379.1 646.9h0M441.1 646.5h0M352.0 644.9h0M320.0 643.6h0M475.2 646.4h0M460.0 648.5h0M429.3 644.2h0M297.4 645.2h0M268.0 645.1h0M478.4 645.8h0M483.3 642.7h0M322.4 646.0h0M408.1 645.3h0M261.4 648.8h0M351.5 646.9h0M426.0 647.1h0M343.6 646.1h0M450.7 645.6h0M476.1 647.2h0M289.9 643.5h0M422.2 647.6h0M347.2 646.7h0M298.9 645.7h0M340.8 647.9h0M372.6 645.2h0M472.0 645.1h0M440.7 646.5h0M258.2 643.3h0M270.5 646.0h0M495.5 645.7h0M390.6 647.5h0M403.4 648.5h0M341.7 647.0h0M456.5 646.5h0M390.7 646.7h0M399.2 644.9h0M316.9 649.6h0M443.4 647.7h0M308.4 648.8h0M289.9 644.1h0M400.4 646.9h0M456.8 646.8h0M327.3 647.7h0M329.5 644.8h0M292.8 646.7h0M401.8 645.7h0M442.0 649.1h0M287.1 644.4h0M385.4 645.5h0M386.5 645.3h0M282.6 644.3h0M384.3 646.4h0M322.3 646.3h0M304.8 645.0h0M493.5 645.4h0M278.7 646.4h0M339.4 646.0h0M405.5 646.8h0M354.2 645.0h0M261.3 644.7h0M464.9 646.1h0M314.4 643.3h0M355.9 648.3h0M475.0 646.4h0M489.7 643.6h0M476.5 646.7h0M355.6 648.4h0M435.6 644.0h0M460.6 645.3h0M304.3 647.8h0M489.7 644.9h0M281.3 647.6h0M414.9 648.0h0M314.4 646.3h0M308.6 646.8h0M289.9 647.7h0M483.1 646.6h0M287.8 647.6h0M476.0 646.0h0M296.8 646.1h0M336.0 645.0h0M307.8 646.7h0M494.1 648.0h0M279.3 648.0h0M463.7 646.4h0M329.1 643.8h0M485.5 644.8h0M437.1 647.0h0M320.3 644.7h0M379.4 647.8h0M295.7 644.6h0M354.7 646.6h0M263.3 644.9h0M420.6 645.2h0M399.4 646.5h0M322.2 645.6h0M260.2 647.6h0M482.4 646.2h0M287.0 644.5h0M335.7 640.0h0M263.1 645.0h0M349.0 645.9h0M353.4 647.6h0M385.0 644.5h0M334.7 648.5h0M316.9 647.3h0M445.6 645.5h0M323.9 647.8h0M336.7 643.8h0M374.9 644.5h0M322.7 646.9h0M431.4 646.9h0M277.2 648.0h0M334.6 648.1h0M358.0 645.4h0M318.9 645.1h0M458.6 645.5h0M342.0 645.7h0M358.0 646.9h0M369.5 645.5h0M456.2 648.2h0M309.5 646.1h0M455.9 643.9h0M484.6 644.1h0M320.8 646.8h0M297.6 646.6h0M446.3 644.0h0M332.1 643.4h0M311.6 648.3h0M275.7 646.7h0M404.3 645.7h0M481.9 644.3h0M468.5 647.3h0M398.3 645.1h0M362.3 646.5h0M491.3 642.6h0M415.5 645.4h0M486.5 646.3h0M422.2 646.6h0M424.2 644.5h0M425.3 645.1h0M287.2 647.7h0M317.6 645.7h0M272.8 648.0h0M480.8 647.2h0M495.7 648.0h0M402.2 648.0h0M294.4 647.1h0M286.8 647.5h0M364.1 645.3h0M350.8 644.9h0M304.0 646.4h0M278.4 647.7h0M412.4 644.9h0M447.2 649.1h0M272.1 648.9h0M331.3 645.0h0M329.1 645.1h0M387.1 644.6h0M402.1 646.4h0M355.5 647.9h0M464.8 646.8h0M350.8 645.2h0M329.8 647.2h0M441.0 647.1h0M459.1 648.1h0M467.6 647.8h0M297.6 644.8h0M304.3 645.4h0M368.0 647.8h0M489.2 647.7h0M405.9 646.9h0M501.6 654.7h0M499.4 657.0h0M505.6 659.6h0M499.6 655.5h0M507.7 656.1h0M500.0 652.2h0M506.4 662.4h0M502.3 657.8h0M507.3 655.3h0M500.3 660.1h0M507.2 658.3h0M500.3 652.2h0M501.9 654.0h0M504.0 659.6h0M503.1 654.0h0M504.4 654.7h0M504.7 655.7h0M499.9 656.2h0M497.1 656.3h0M505.0 659.6h0M503.6 658.7h0M503.2 655.7h0M502.5 657.0h0M507.2 653.4h0M500.3 657.9h0M507.0 663.4h0M498.8 657.8h0M504.6 656.9h0M507.4 656.9h0M498.7 656.8h0M505.5 659.5h0M500.0 653.6h0M497.6 658.5h0M501.7 655.6h0M504.7 658.2h0M500.1 659.9h0M507.5 654.4h0M497.0 662.8h0M499.9 659.1h0M500.8 656.2h0M501.1 658.0h0M500.3 655.4h0M497.2 657.1h0M499.3 658.1h0M499.9 652.0h0M504.4 658.0h0M501.2 657.6h0M504.9 660.1h0M501.9 659.0h0M500.7 655.6h0M498.7 655.7h0M499.5 657.1h0M506.9 659.4h0M502.0 655.7h0M500.4 661.1h0M515.2 640.4h0M514.1 647.5h0M510.3 637.4h0M511.1 636.5h0M512.7 646.5h0M515.3 635.7h0M509.9 633.8h0M511.4 641.3h0M508.5 649.8h0M508.0 635.4h0M509.9 645.0h0M514.5 646.3h0M513.4 643.4h0M511.8 647.2h0M511.3 637.7h0M510.1 639.5h0M514.1 636.9h0M511.9 640.6h0M508.6 648.7h0M513.0 645.0h0M42.0 634.2h0M92.0 639.1h0M95.0 652.9h0M136.0 636.2h0M218.0 665.6h0M226.0 664.6h0M238.0 655.8h0M300.0 652.9h0M340.0 640.1h0M350.0 652.9h0M400.0 636.2h0M420.0 651.9h0M440.0 638.2h0M455.0 652.9h0M510.4 610.7h0M510.8 620.5h0M509.0 632.3h0M512.0 636.2h0M25.0 649.9h0M60.0 640.1h0M160.0 638.2h0M250.0 636.2h0" stroke="#1c1a6c" stroke-width="2.4" stroke-linecap="round" fill="none"/>
<path d="M26.7,623.9 L26.7,630.8" stroke="#e8302a" stroke-width="1.3"/>
<path d="M26.7,637.8 L23.1,630.8 L30.3,630.8 Z" fill="#e8302a"/>
<path d="M160.3,626.0 L173.1,634.0" stroke="#e8302a" stroke-width="1.3"/>
<path d="M179.0,637.7 L171.2,637.0 L175.0,630.9 Z" fill="#e8302a"/>
<path d="M190.6,605.5 L190.6,622.0" stroke="#e8302a" stroke-width="1.3"/>
<path d="M190.6,629.0 L187.0,622.0 L194.2,622.0 Z" fill="#e8302a"/>
<path d="M228.0,626.0 L228.0,630.7" stroke="#e8302a" stroke-width="1.3"/>
<path d="M228.0,637.7 L224.4,630.7 L231.6,630.7 Z" fill="#e8302a"/>
<path d="M280.0,627.6 L267.6,633.3" stroke="#e8302a" stroke-width="1.3"/>
<path d="M261.2,636.2 L266.1,630.0 L269.1,636.6 Z" fill="#e8302a"/>
<text x="20" y="621.2" font-family="Liberation Sans, sans-serif" font-weight="bold" font-size="10" textLength="20.4" lengthAdjust="spacingAndGlyphs" stroke="#000" stroke-width="0.3" >1p21</text>
<text x="138.7" y="621.4" font-family="Liberation Sans, sans-serif" font-weight="bold" font-size="10" textLength="40.3" lengthAdjust="spacingAndGlyphs" stroke="#000" stroke-width="0.3" >6q22-q27</text>
<text x="186.4" y="597.9" font-family="Liberation Sans, sans-serif" font-weight="bold" font-size="10" textLength="11.0" lengthAdjust="spacingAndGlyphs" stroke="#000" stroke-width="0.3" >7p</text>
<text x="218" y="621.8" font-family="Liberation Sans, sans-serif" font-weight="bold" font-size="10" textLength="40.4" lengthAdjust="spacingAndGlyphs" stroke="#000" stroke-width="0.3" >8p12-p23</text>
<text x="281.5" y="621.5" font-family="Liberation Sans, sans-serif" font-weight="bold" font-size="10" textLength="41.5" lengthAdjust="spacingAndGlyphs" stroke="#000" stroke-width="0.3" >8q12-q24</text>
<text x="357" y="680.4" font-family="Liberation Sans, sans-serif" font-weight="bold" font-size="10.5" textLength="153.4" lengthAdjust="spacingAndGlyphs" stroke="#000" stroke-width="0.3" >MCL009; survival time, 115 months</text>
<rect x="14.2" y="729.8" width="503.40000000000003" height="73.0" fill="none" stroke="#a8a8a8" stroke-width="1.3"/>
<path d="M14.2,748.0 H517.6" stroke="#888" stroke-width="0.9" stroke-dasharray="1.2,2.2"/>
<path d="M14.2,766.3 H517.6" stroke="#888" stroke-width="0.9" stroke-dasharray="1.2,2.2"/>
<path d="M14.2,784.6 H517.6" stroke="#888" stroke-width="0.9" stroke-dasharray="1.2,2.2"/>
<path d="M14.2,729.8 V802.8" stroke="#555" stroke-width="1.3"/>
<path d="M12.2,729.7 H14.2" stroke="#555" stroke-width="1.1"/>
<text x="9.799999999999999" y="733.5" font-family="Liberation Sans, sans-serif" font-weight="bold" font-size="10.6" text-anchor="end" fill="#111" stroke="#111" stroke-width="0.25">2</text>
<path d="M12.2,748.0 H14.2" stroke="#555" stroke-width="1.1"/>
<text x="9.799999999999999" y="751.8" font-family="Liberation Sans, sans-serif" font-weight="bold" font-size="10.6" text-anchor="end" fill="#111" stroke="#111" stroke-width="0.25">1</text>
<path d="M12.2,766.3 H14.2" stroke="#555" stroke-width="1.1"/>
<text x="9.799999999999999" y="770.1" font-family="Liberation Sans, sans-serif" font-weight="bold" font-size="10.6" text-anchor="end" fill="#111" stroke="#111" stroke-width="0.25">0</text>
<path d="M12.2,784.6 H14.2" stroke="#555" stroke-width="1.1"/>
<text x="9.799999999999999" y="788.4" font-family="Liberation Sans, sans-serif" font-weight="bold" font-size="10.6" text-anchor="end" fill="#111" stroke="#111" stroke-width="0.25">-1</text>
<path d="M12.2,802.9 H14.2" stroke="#555" stroke-width="1.1"/>
<text x="9.799999999999999" y="806.7" font-family="Liberation Sans, sans-serif" font-weight="bold" font-size="10.6" text-anchor="end" fill="#111" stroke="#111" stroke-width="0.25">-2</text>
<path d="M15.4 765.5h0M15.3 768.6h0M20.3 765.5h0M18.7 766.4h0M22.1 766.1h0M23.3 764.6h0M16.0 765.3h0M18.2 766.3h0M18.6 764.8h0M19.6 765.4h0M22.7 765.8h0M20.1 765.5h0M17.6 765.6h0M20.6 766.4h0M17.8 766.5h0M19.7 765.9h0M15.8 767.2h0M19.8 767.5h0M19.1 764.3h0M20.5 766.2h0M19.8 766.0h0M19.9 766.1h0M21.3 765.9h0M16.1 765.9h0M21.4 765.9h0M20.3 767.0h0M20.9 764.7h0M18.4 766.8h0M15.7 764.6h0M28.7 777.2h0M28.1 780.5h0M23.8 777.9h0M26.9 778.2h0M28.1 776.5h0M25.0 776.0h0M27.2 778.5h0M34.6 765.2h0M36.8 764.8h0M39.7 766.5h0M35.9 766.0h0M38.5 766.2h0M30.9 764.3h0M36.4 766.4h0M31.3 764.7h0M38.6 763.1h0M35.8 764.9h0M30.9 767.7h0M38.4 765.2h0M35.0 763.9h0M34.6 765.8h0M30.4 763.8h0M39.0 764.5h0M34.9 764.8h0M38.6 765.8h0M30.3 766.1h0M36.6 765.7h0M33.4 765.3h0M35.1 764.6h0M36.1 764.8h0M38.2 765.8h0M39.2 765.3h0M31.3 764.8h0M38.5 767.7h0M30.7 766.5h0M29.6 766.5h0M32.7 765.7h0M32.5 765.8h0M37.6 765.7h0M35.4 766.6h0M33.6 764.4h0M37.8 765.0h0M39.3 767.8h0M43.5 771.5h0M43.3 773.8h0M41.9 772.0h0M43.1 772.0h0M43.2 775.9h0M42.5 770.7h0M43.2 772.9h0M41.5 771.6h0M53.5 763.2h0M57.2 768.8h0M44.9 766.3h0M54.7 764.5h0M49.5 767.4h0M44.7 764.5h0M49.3 763.5h0M54.2 766.6h0M45.3 765.1h0M57.6 767.0h0M44.7 764.6h0M47.8 765.2h0M49.3 765.0h0M45.0 763.4h0M58.8 764.7h0M59.5 763.4h0M58.5 764.4h0M47.2 767.1h0M57.3 765.0h0M49.4 764.6h0M48.6 767.5h0M55.0 763.4h0M45.4 765.3h0M44.1 764.8h0M58.9 766.7h0M49.7 765.3h0M56.7 764.9h0M50.8 765.8h0M45.5 765.2h0M51.6 768.5h0M46.7 763.4h0M45.3 767.0h0M44.3 768.6h0M50.4 766.8h0M48.1 766.6h0M49.4 764.6h0M59.4 766.7h0M57.3 764.9h0M55.3 766.8h0M47.9 762.1h0M56.0 764.6h0M55.2 762.5h0M52.4 766.8h0M47.8 764.4h0M47.3 766.8h0M50.7 764.5h0M48.4 764.4h0M58.2 767.7h0M51.5 767.0h0M54.8 767.1h0M58.4 767.6h0M53.9 766.4h0M46.6 766.8h0M49.1 767.5h0M58.8 765.2h0M44.7 764.6h0M62.0 762.9h0M68.2 770.8h0M80.2 773.9h0M80.9 772.0h0M76.3 770.8h0M73.8 770.8h0M61.1 770.1h0M81.3 772.3h0M75.2 768.8h0M74.2 771.0h0M79.4 772.9h0M65.4 771.8h0M74.3 770.8h0M75.7 768.1h0M77.4 768.9h0M62.2 770.7h0M76.8 769.9h0M80.8 769.5h0M74.5 765.5h0M63.9 771.3h0M81.1 768.9h0M62.3 768.4h0M65.3 772.1h0M79.7 769.5h0M73.5 769.6h0M67.7 771.0h0M78.5 768.7h0M74.9 767.7h0M62.7 767.5h0M65.3 770.4h0M78.6 769.5h0M78.7 764.8h0M61.7 772.4h0M72.0 769.5h0M76.4 768.0h0M67.5 769.6h0M61.4 768.5h0M69.6 769.6h0M81.5 768.3h0M76.8 767.1h0M64.9 770.4h0M79.4 769.5h0M75.4 770.1h0M66.7 770.8h0M66.2 770.0h0M64.1 772.4h0M69.3 768.3h0M68.3 766.2h0M66.6 766.2h0M80.1 767.2h0M77.5 772.1h0M71.3 766.6h0M82.1 771.5h0M75.5 770.1h0M81.9 765.9h0M79.0 772.3h0M74.6 768.1h0M76.0 769.3h0M77.8 770.3h0M77.4 771.9h0M80.1 769.0h0M67.8 771.0h0M68.4 767.7h0M65.7 767.3h0M81.2 773.0h0M80.8 771.1h0M70.2 770.7h0M69.2 772.6h0M63.0 772.4h0M82.4 769.8h0M75.5 770.4h0M82.2 773.6h0M74.5 771.1h0M71.8 768.8h0M77.2 772.6h0M80.4 772.0h0M79.4 766.5h0M68.0 767.1h0M71.7 773.5h0M81.7 772.9h0M71.6 769.1h0M78.4 772.6h0M72.1 770.5h0M79.1 771.0h0M61.6 768.7h0M60.0 775.5h0M62.1 774.8h0M70.0 772.7h0M68.5 767.7h0M82.1 770.3h0M82.9 773.7h0M63.1 768.9h0M79.2 768.4h0M71.7 770.5h0M79.3 770.7h0M68.5 769.0h0M77.8 767.3h0M60.1 769.6h0M70.8 768.8h0M67.7 770.1h0M65.8 770.8h0M66.9 772.0h0M69.6 769.4h0M84.1 764.9h0M99.9 766.0h0M119.4 766.0h0M95.9 765.5h0M123.7 764.0h0M102.8 765.0h0M90.6 767.6h0M122.3 765.6h0M89.5 764.5h0M107.9 766.2h0M122.6 763.3h0M122.5 764.0h0M106.3 767.2h0M91.9 764.8h0M104.0 761.8h0M95.3 762.5h0M96.2 765.5h0M96.3 763.7h0M91.5 766.6h0M84.6 768.0h0M114.5 764.4h0M83.5 764.9h0M107.1 764.4h0M98.4 765.4h0M110.3 764.8h0M107.4 766.3h0M103.1 764.5h0M115.7 763.9h0M107.0 765.5h0M120.7 763.9h0M107.6 768.6h0M119.8 766.8h0M119.3 762.7h0M112.7 762.2h0M96.8 764.9h0M103.4 765.6h0M86.3 767.7h0M113.5 764.7h0M110.1 764.0h0M117.4 768.1h0M86.5 764.4h0M88.4 764.5h0M110.1 764.6h0M113.8 767.4h0M86.1 764.4h0M84.3 768.1h0M96.6 762.7h0M97.3 765.1h0M85.2 767.5h0M87.1 762.9h0M91.6 763.3h0M83.6 766.6h0M89.2 761.4h0M84.1 767.2h0M98.5 764.8h0M114.4 763.2h0M110.8 769.5h0M108.4 763.6h0M102.6 765.5h0M90.9 765.4h0M85.0 767.4h0M90.8 764.8h0M122.8 767.4h0M117.2 767.2h0M106.9 766.2h0M108.8 767.6h0M114.3 762.5h0M117.5 767.8h0M93.1 766.8h0M116.7 766.0h0M110.2 765.4h0M94.7 763.9h0M95.1 763.9h0M90.2 765.9h0M106.0 766.1h0M123.7 765.3h0M116.2 763.9h0M90.0 764.1h0M88.0 766.3h0M94.8 769.2h0M89.9 761.5h0M89.0 763.6h0M113.7 764.9h0M96.2 764.8h0M106.8 766.3h0M96.2 767.2h0M124.4 766.0h0M107.9 765.8h0M88.9 766.5h0M115.6 768.1h0M95.2 766.0h0M102.1 764.3h0M95.1 766.3h0M103.6 765.3h0M95.9 769.2h0M96.5 765.8h0M89.6 765.6h0M123.3 767.6h0M91.7 768.6h0M94.9 764.6h0M100.2 766.9h0M88.0 764.5h0M92.6 766.2h0M100.1 764.2h0M107.5 766.0h0M105.5 768.1h0M98.5 765.5h0M111.4 766.0h0M114.3 764.2h0M94.1 766.2h0M93.1 766.1h0M109.3 763.8h0M100.3 763.3h0M117.9 764.0h0M83.4 763.5h0M105.7 764.6h0M97.6 764.0h0M91.9 763.8h0M119.5 764.6h0M92.1 765.3h0M116.1 765.1h0M118.9 761.0h0M123.6 765.4h0M87.9 765.8h0M89.6 766.1h0M86.5 765.4h0M96.5 764.9h0M121.1 767.5h0M110.0 769.0h0M89.5 764.8h0M87.4 768.3h0M114.5 764.9h0M109.2 765.1h0M83.1 763.3h0M107.7 762.3h0M91.0 764.7h0M95.3 766.4h0M87.2 767.5h0M124.6 766.8h0M102.2 765.3h0M108.9 769.2h0M91.6 765.2h0M98.8 765.4h0M110.2 764.2h0M114.4 766.0h0M121.1 765.2h0M93.4 766.7h0M93.1 766.2h0M99.9 768.6h0M96.0 765.2h0M117.4 762.6h0M98.6 765.1h0M98.7 764.7h0M104.1 767.2h0M106.7 762.8h0M97.8 766.8h0M83.4 763.9h0M113.9 765.2h0M87.8 767.1h0M118.9 763.5h0M93.4 765.4h0M93.7 765.1h0M105.5 764.6h0M121.1 765.4h0M99.0 766.1h0M103.2 764.5h0M100.4 766.1h0M87.7 765.3h0M130.0 762.7h0M128.5 763.1h0M126.1 760.8h0M129.1 761.9h0M128.8 761.2h0M128.4 760.0h0M127.8 761.5h0M129.6 764.1h0M129.4 759.5h0M128.5 759.3h0M125.4 761.4h0M126.4 759.2h0M130.9 759.2h0M127.4 760.4h0M128.8 757.7h0M125.8 763.7h0M128.4 757.7h0M128.7 757.5h0M129.6 759.0h0M130.8 756.0h0M127.7 760.0h0M126.9 764.3h0M126.0 760.5h0M127.0 761.6h0M127.7 761.0h0M130.8 759.7h0M128.1 758.7h0M129.1 759.9h0M129.4 762.4h0M125.1 762.4h0M161.8 766.0h0M133.1 765.1h0M151.2 762.0h0M170.8 764.6h0M163.9 765.5h0M175.9 763.1h0M146.7 765.5h0M155.0 765.3h0M142.9 765.0h0M140.4 768.0h0M135.6 763.5h0M141.0 764.5h0M139.3 765.8h0M153.2 767.4h0M151.8 764.9h0M169.6 762.7h0M170.3 766.5h0M158.3 767.2h0M164.2 764.5h0M154.7 768.2h0M146.7 769.3h0M156.4 766.1h0M162.9 766.5h0M179.2 765.8h0M172.2 766.3h0M134.4 764.7h0M163.3 765.7h0M135.6 766.4h0M162.4 766.1h0M173.9 764.1h0M166.3 763.5h0M137.0 763.6h0M152.4 764.0h0M140.9 771.3h0M164.4 767.1h0M166.9 765.9h0M168.2 764.9h0M149.0 768.2h0M161.2 762.7h0M141.5 764.7h0M178.0 766.4h0M178.4 765.0h0M132.5 765.9h0M159.5 766.7h0M167.3 764.3h0M142.7 766.1h0M132.7 767.9h0M131.1 766.4h0M166.7 765.5h0M131.6 767.3h0M150.5 763.0h0M171.3 767.3h0M133.7 762.1h0M166.7 763.6h0M152.8 767.0h0M150.7 765.0h0M155.4 763.1h0M148.8 765.6h0M174.5 767.5h0M164.8 765.1h0M150.6 761.6h0M137.1 768.0h0M156.5 764.3h0M181.5 765.2h0M176.0 765.5h0M134.4 766.0h0M149.0 765.8h0M154.7 763.4h0M151.5 764.2h0M136.7 767.1h0M140.4 762.4h0M158.0 767.6h0M167.4 764.0h0M167.2 764.9h0M164.9 763.1h0M165.0 764.6h0M131.4 763.3h0M142.0 765.3h0M148.0 763.5h0M143.9 764.6h0M150.6 761.3h0M151.2 766.5h0M148.2 763.1h0M131.5 764.4h0M174.7 764.9h0M179.3 766.3h0M162.1 764.4h0M144.8 767.9h0M153.7 767.8h0M177.1 763.9h0M161.3 768.1h0M166.2 762.6h0M166.4 765.8h0M180.5 764.8h0M164.1 765.1h0M136.5 764.5h0M156.5 765.8h0M177.6 765.9h0M137.5 765.5h0M133.6 763.3h0M133.5 763.2h0M134.5 762.9h0M139.3 764.6h0M169.9 765.6h0M161.3 768.3h0M168.0 764.1h0M159.1 763.7h0M148.9 766.0h0M170.7 763.8h0M139.6 762.9h0M149.2 765.1h0M152.0 763.3h0M165.4 764.7h0M169.4 768.4h0M159.6 766.1h0M161.7 766.0h0M145.2 764.3h0M161.0 766.8h0M173.6 766.0h0M153.2 767.0h0M169.0 765.3h0M156.7 765.1h0M156.9 763.5h0M161.7 763.8h0M138.1 764.9h0M141.9 764.8h0M139.9 765.0h0M158.0 765.0h0M164.8 762.4h0M166.7 769.8h0M141.5 765.6h0M147.9 764.7h0M138.4 763.2h0M164.0 767.2h0M152.2 764.6h0M144.8 763.7h0M142.4 766.1h0M178.9 768.7h0M155.3 765.9h0M181.1 767.4h0M147.2 764.1h0M141.9 766.8h0M167.2 762.0h0M177.1 765.0h0M139.3 766.7h0M174.5 766.2h0M160.7 767.2h0M176.7 764.5h0M178.8 762.5h0M152.6 765.6h0M178.5 763.6h0M140.1 767.0h0M153.4 764.7h0M153.4 761.0h0M143.4 767.8h0M155.4 763.0h0M169.0 763.1h0M136.5 768.7h0M155.3 767.9h0M157.5 767.0h0M140.9 763.5h0M163.4 766.0h0M143.8 765.6h0M159.8 763.9h0M159.9 765.0h0M168.8 764.8h0M178.2 765.8h0M177.8 763.2h0M156.4 766.7h0M144.3 762.2h0M143.2 765.9h0M170.7 766.7h0M169.4 764.1h0M171.1 764.4h0M173.1 768.9h0M159.5 764.8h0M176.3 767.7h0M164.2 766.8h0M162.9 763.8h0M173.3 766.8h0M163.9 764.6h0M169.8 765.9h0M178.0 761.7h0M151.0 765.4h0M168.9 767.4h0M146.1 767.3h0M155.6 766.9h0M175.1 765.0h0M180.2 765.3h0M178.9 763.5h0M169.3 765.0h0M173.8 765.0h0M175.7 764.7h0M161.8 765.5h0M143.3 764.7h0M131.9 763.8h0M169.4 763.8h0M169.4 766.3h0M167.9 768.5h0M160.3 766.7h0M164.2 764.7h0M167.3 769.8h0M184.7 770.2h0M181.6 772.1h0M182.5 773.2h0M184.5 769.2h0M181.8 774.6h0M182.2 770.5h0M182.4 773.3h0M184.4 772.1h0M181.9 772.5h0M184.8 772.3h0M181.9 772.7h0M183.5 774.3h0M184.2 773.8h0M183.5 771.6h0M183.3 772.8h0M183.0 775.2h0M182.4 774.1h0M219.0 767.4h0M185.0 764.3h0M215.7 766.0h0M210.3 767.8h0M186.0 764.3h0M214.8 764.9h0M207.9 761.9h0M189.8 760.4h0M219.7 764.9h0M208.4 762.7h0M203.3 762.7h0M222.4 765.5h0M193.0 766.2h0M192.0 761.6h0M220.3 765.2h0M191.4 764.6h0M217.4 765.1h0M193.3 764.8h0M217.2 765.7h0M201.2 763.2h0M209.4 762.3h0M209.0 765.3h0M200.6 767.1h0M205.5 764.5h0M210.7 767.3h0M190.4 765.7h0M221.3 762.3h0M217.6 760.3h0M193.2 763.9h0M193.9 766.5h0M200.6 763.2h0M215.6 768.7h0M205.5 765.8h0M197.5 761.8h0M215.4 763.2h0M192.7 767.1h0M213.1 767.6h0M214.8 763.0h0M189.0 764.7h0M207.6 765.7h0M208.5 763.8h0M223.5 765.6h0M196.8 768.1h0M203.2 763.1h0M222.1 765.8h0M190.2 766.4h0M220.5 767.0h0M199.5 764.1h0M198.6 766.0h0M224.4 763.4h0M200.5 765.1h0M194.8 762.6h0M193.2 765.3h0M212.5 765.8h0M210.2 768.2h0M194.5 766.6h0M204.6 763.3h0M196.3 759.0h0M218.2 766.9h0M199.2 766.5h0M209.4 764.0h0M221.2 763.7h0M194.5 765.8h0M222.7 764.4h0M204.2 767.5h0M210.4 765.1h0M195.8 762.9h0M212.5 761.6h0M213.7 764.9h0M208.5 765.0h0M219.2 763.7h0M203.7 762.6h0M185.6 763.7h0M221.2 765.9h0M207.5 763.9h0M209.4 762.8h0M208.7 765.9h0M186.6 767.0h0M196.4 763.6h0M188.6 763.9h0M210.7 762.8h0M218.8 764.4h0M211.2 765.7h0M217.2 765.4h0M198.2 766.4h0M186.2 766.3h0M201.2 765.6h0M191.7 765.4h0M197.1 762.5h0M194.5 766.8h0M192.2 764.7h0M212.2 765.6h0M208.7 761.9h0M217.6 764.1h0M224.0 765.2h0M194.4 763.1h0M222.1 764.4h0M215.4 765.4h0M207.3 761.8h0M223.5 763.3h0M205.3 761.4h0M186.1 762.5h0M189.9 763.1h0M197.4 764.3h0M212.6 766.5h0M207.4 763.3h0M212.1 764.4h0M185.7 763.3h0M194.8 764.6h0M207.0 765.8h0M210.9 766.4h0M202.1 763.3h0M193.6 762.2h0M197.3 765.1h0M215.1 763.7h0M213.4 762.0h0M194.8 766.1h0M222.6 765.2h0M186.7 766.6h0M194.3 762.4h0M202.4 764.1h0M216.9 765.4h0M207.4 767.6h0M211.8 764.9h0M222.7 762.7h0M199.5 765.1h0M192.2 765.3h0M201.2 763.4h0M207.3 766.8h0M190.3 764.4h0M186.5 763.5h0M213.7 766.0h0M224.2 766.1h0M221.9 764.1h0M199.9 764.7h0M203.0 765.0h0M217.8 764.2h0M224.0 764.1h0M199.1 766.2h0M222.7 765.8h0M212.7 763.7h0M190.8 762.5h0M202.8 762.1h0M185.1 766.1h0M201.1 762.6h0M205.7 763.2h0M216.6 764.6h0M198.1 763.6h0M210.7 763.0h0M211.3 761.3h0M205.8 766.5h0M209.3 763.4h0M203.2 764.8h0M209.2 764.9h0M203.2 762.5h0M221.1 763.0h0M189.5 766.4h0M219.2 765.0h0M226.3 771.6h0M235.4 775.2h0M225.1 773.0h0M232.8 775.8h0M226.2 779.3h0M230.4 773.5h0M228.6 773.8h0M234.1 776.1h0M227.6 775.5h0M232.4 773.9h0M234.8 776.1h0M225.3 773.7h0M232.3 775.1h0M225.5 780.6h0M233.0 775.0h0M233.9 776.1h0M226.1 776.7h0M234.1 773.6h0M229.3 775.8h0M227.9 773.2h0M235.0 771.8h0M228.7 774.2h0M226.9 778.5h0M228.2 776.4h0M234.4 772.3h0M235.2 775.2h0M229.5 776.6h0M229.9 774.8h0M231.1 773.3h0M233.7 773.9h0M224.7 773.0h0M233.2 776.7h0M235.1 775.3h0M229.0 775.2h0M229.3 774.6h0M234.9 779.9h0M229.0 775.2h0M228.7 778.0h0M233.9 771.1h0M229.7 770.6h0M231.6 770.3h0M227.7 772.5h0M231.9 775.8h0M228.6 772.2h0M233.1 775.1h0M229.9 773.0h0M234.5 776.9h0M230.5 776.1h0M233.9 773.4h0M229.4 770.1h0M231.8 774.6h0M227.5 768.9h0M230.9 767.6h0M231.8 777.8h0M244.6 755.0h0M251.5 753.4h0M237.2 763.7h0M246.4 757.6h0M242.1 756.3h0M245.9 758.6h0M248.1 757.6h0M245.4 757.9h0M254.5 759.3h0M254.6 757.5h0M252.2 755.6h0M252.9 754.7h0M247.0 760.9h0M242.4 761.3h0M253.3 756.3h0M239.3 762.1h0M248.9 756.0h0M249.7 757.2h0M239.2 761.4h0M241.1 764.6h0M250.4 759.8h0M254.2 754.8h0M244.8 763.5h0M247.6 757.6h0M251.2 758.5h0M248.6 759.9h0M246.3 757.2h0M249.8 759.1h0M251.2 759.0h0M253.0 757.8h0M248.2 757.9h0M250.2 750.3h0M240.9 766.5h0M240.2 761.4h0M253.2 756.6h0M241.5 758.4h0M245.7 760.0h0M254.7 761.7h0M239.9 758.1h0M250.6 759.9h0M242.0 760.8h0M249.5 761.0h0M253.3 758.8h0M253.4 757.2h0M252.6 754.1h0M247.4 756.3h0M247.9 759.7h0M240.4 760.0h0M239.3 762.7h0M252.0 756.3h0M238.0 761.9h0M255.7 753.4h0M240.7 762.7h0M251.4 757.1h0M246.0 758.5h0M249.3 757.4h0M252.1 758.5h0M242.9 755.9h0M253.5 757.1h0M252.1 754.6h0M248.6 757.4h0M248.5 754.9h0M244.7 765.1h0M256.4 749.5h0M244.8 760.1h0M241.8 763.9h0M248.2 757.8h0M255.4 749.4h0M255.5 753.8h0M248.6 761.1h0M244.8 760.7h0M251.9 753.2h0M248.2 761.7h0M253.5 756.4h0M253.7 756.6h0M251.0 751.4h0M256.5 755.4h0M250.0 754.0h0M256.5 756.4h0M250.0 759.4h0M241.4 758.4h0M249.6 756.0h0M252.4 760.8h0M245.5 757.6h0M240.4 759.7h0M244.0 761.4h0M252.6 755.7h0M241.2 760.3h0M237.2 763.9h0M254.6 757.0h0M256.4 756.4h0M254.4 756.3h0M253.0 759.5h0M251.6 756.8h0M248.0 762.0h0M250.0 757.2h0M251.9 756.8h0M243.6 762.7h0M241.1 758.9h0M250.9 752.1h0M265.7 775.0h0M272.4 777.1h0M278.0 776.4h0M269.9 778.0h0M266.7 777.1h0M272.4 776.9h0M269.6 776.9h0M259.5 777.2h0M279.6 776.4h0M260.1 774.9h0M275.6 776.7h0M267.8 776.7h0M276.6 777.0h0M270.1 773.8h0M277.5 774.8h0M268.7 776.0h0M263.2 775.8h0M276.3 777.3h0M277.7 776.7h0M269.6 776.4h0M280.2 776.5h0M274.7 777.5h0M280.3 777.4h0M261.9 776.0h0M280.6 776.2h0M276.2 778.9h0M280.6 776.5h0M265.7 775.2h0M270.9 777.3h0M279.4 776.3h0M273.8 778.1h0M264.2 775.7h0M264.2 777.8h0M280.7 777.9h0M273.8 776.9h0M258.3 774.0h0M263.5 777.2h0M270.9 777.9h0M261.7 776.1h0M268.6 776.3h0M273.7 774.8h0M259.1 777.9h0M263.3 778.3h0M279.0 776.9h0M258.0 776.2h0M259.8 776.2h0M277.5 775.4h0M273.9 778.2h0M268.8 777.5h0M278.5 776.7h0M262.2 775.7h0M257.1 776.1h0M277.3 777.0h0M272.9 777.7h0M265.4 775.6h0M271.5 775.6h0M259.0 773.7h0M264.8 776.8h0M271.2 774.8h0M278.1 777.9h0M264.9 777.2h0M258.5 777.3h0M259.2 777.1h0M264.7 777.5h0M272.7 777.2h0M274.6 776.6h0M274.4 777.1h0M278.9 775.9h0M274.0 776.7h0M273.8 776.6h0M271.9 775.0h0M273.7 776.2h0M275.3 776.4h0M281.4 776.6h0M261.5 776.5h0M273.1 776.0h0M260.1 777.4h0M262.2 775.3h0M280.2 774.9h0M267.1 775.3h0M271.2 777.1h0M262.3 778.3h0M269.8 777.1h0M257.6 776.4h0M271.5 775.7h0M280.9 776.8h0M274.2 776.9h0M273.6 774.9h0M270.9 777.3h0M265.0 775.4h0M276.3 775.6h0M266.7 778.0h0M265.4 776.3h0M270.7 777.2h0M281.4 777.6h0M275.4 778.6h0M273.9 778.3h0M260.2 776.1h0M277.2 777.0h0M267.6 776.3h0M272.7 777.7h0M271.0 776.9h0M276.6 776.9h0M257.8 778.2h0M259.4 778.4h0M264.0 776.1h0M262.1 776.4h0M274.0 777.6h0M259.9 776.7h0M259.3 775.9h0M270.2 774.6h0M258.7 777.5h0M276.9 775.9h0M265.2 774.3h0M264.6 776.5h0M271.9 775.0h0M281.4 779.4h0M264.1 775.0h0M262.6 776.6h0M266.2 778.6h0M276.5 775.7h0M280.3 775.5h0M260.9 775.3h0M257.7 775.3h0M264.6 776.6h0M284.1 769.7h0M292.6 766.6h0M286.8 771.3h0M282.6 768.7h0M294.5 768.4h0M296.3 766.3h0M288.0 767.6h0M285.0 767.6h0M300.6 769.2h0M286.7 768.2h0M286.7 768.5h0M289.0 766.6h0M286.6 768.6h0M286.7 766.0h0M299.6 771.9h0M283.6 765.6h0M297.9 768.6h0M292.2 765.8h0M282.7 768.0h0M284.9 766.3h0M294.5 765.0h0M292.6 769.4h0M286.6 768.0h0M287.5 768.6h0M299.6 767.7h0M296.0 771.7h0M294.6 768.6h0M299.6 768.7h0M286.4 769.9h0M288.3 768.6h0M297.9 771.5h0M290.4 765.2h0M290.5 767.2h0M297.4 764.1h0M301.0 770.1h0M298.9 770.7h0M296.7 767.6h0M290.5 771.8h0M295.4 767.7h0M286.3 769.7h0M286.8 768.9h0M285.9 767.7h0M295.0 768.1h0M300.0 764.2h0M296.4 766.8h0M287.1 771.0h0M294.5 766.1h0M288.7 771.1h0M297.7 768.0h0M291.2 770.9h0M286.7 770.0h0M287.5 765.4h0M283.6 769.4h0M288.9 769.6h0M288.4 769.4h0M290.7 768.9h0M294.5 765.1h0M299.6 770.8h0M297.5 770.9h0M292.9 767.0h0M288.9 771.7h0M285.2 769.0h0M293.2 765.8h0M283.2 768.2h0M283.0 769.3h0M294.2 769.8h0M285.1 770.2h0M298.1 769.5h0M294.7 767.9h0M292.0 765.5h0M299.8 766.1h0M284.5 769.4h0M287.9 769.8h0M291.6 766.7h0M300.3 772.2h0M283.5 769.2h0M293.4 768.9h0M299.5 770.6h0M284.8 770.4h0M295.4 767.5h0M295.1 771.8h0M288.8 770.2h0M292.2 769.6h0M299.8 768.1h0M290.9 771.2h0M290.7 765.9h0M292.7 768.9h0M282.6 768.8h0M297.4 769.0h0M283.0 769.7h0M300.6 770.4h0M300.4 765.8h0M297.6 767.8h0M299.0 768.5h0M293.7 766.1h0M303.2 770.3h0M325.6 769.8h0M312.5 769.9h0M307.4 770.9h0M307.3 771.4h0M331.0 769.3h0M329.8 770.3h0M315.3 769.4h0M309.3 770.4h0M322.6 773.5h0M302.6 770.2h0M327.2 766.9h0M301.2 769.6h0M302.5 769.0h0M311.2 769.0h0M314.9 770.6h0M301.2 772.5h0M309.7 768.4h0M331.0 767.4h0M324.6 768.4h0M302.8 769.3h0M327.7 768.6h0M315.2 769.8h0M331.2 768.7h0M310.8 769.8h0M310.4 769.3h0M321.7 771.2h0M315.9 770.8h0M309.4 768.9h0M317.0 770.3h0M320.4 773.8h0M310.5 769.6h0M326.1 773.4h0M323.8 766.1h0M324.0 768.2h0M321.1 768.3h0M308.0 771.1h0M322.5 771.5h0M306.3 770.3h0M305.3 770.0h0M316.4 771.0h0M306.3 769.7h0M304.9 768.8h0M319.1 768.5h0M330.8 771.1h0M302.7 773.9h0M314.5 769.7h0M303.8 771.2h0M317.4 768.9h0M318.5 766.7h0M316.0 766.8h0M302.2 769.6h0M322.4 767.5h0M316.5 766.8h0M318.5 769.5h0M321.4 769.0h0M328.6 767.8h0M314.3 769.8h0M328.8 770.2h0M306.4 771.3h0M314.8 769.7h0M306.4 771.0h0M312.4 768.4h0M328.6 769.9h0M330.7 766.7h0M315.4 767.6h0M309.4 772.0h0M310.8 767.9h0M328.5 770.0h0M314.4 767.3h0M307.1 769.0h0M326.5 769.4h0M316.6 768.5h0M314.0 770.7h0M328.6 768.7h0M323.8 768.7h0M301.4 770.3h0M330.5 768.5h0M314.9 771.4h0M306.5 769.0h0M328.8 771.4h0M313.8 768.6h0M321.9 768.6h0M323.9 768.2h0M306.9 770.9h0M331.0 763.9h0M318.2 770.0h0M302.7 769.8h0M317.4 770.9h0M301.6 767.6h0M330.9 770.0h0M321.3 767.7h0M312.6 771.4h0M325.4 768.8h0M325.2 770.0h0M322.4 767.8h0M308.2 770.4h0M303.8 771.5h0M327.1 768.5h0M328.1 771.3h0M311.5 771.4h0M312.8 768.4h0M313.3 772.9h0M309.4 768.5h0M329.6 769.9h0M317.2 771.2h0M322.6 769.0h0M319.5 768.4h0M303.7 771.0h0M303.2 770.3h0M305.5 768.5h0M316.2 768.3h0M320.1 769.6h0M331.4 770.5h0M328.5 770.9h0M323.5 770.4h0M312.7 768.5h0M311.5 768.7h0M322.3 768.9h0M311.5 767.3h0M324.4 769.9h0M323.2 770.0h0M304.7 770.6h0M325.5 766.0h0M303.8 773.5h0M310.7 769.2h0M330.7 768.4h0M320.9 769.3h0M327.1 765.2h0M329.3 767.1h0M309.1 768.4h0M325.3 770.8h0M312.4 768.8h0M303.0 770.6h0M304.3 769.8h0M304.9 769.5h0M320.3 770.3h0M320.6 768.3h0M326.8 766.4h0M310.0 767.9h0M324.3 768.9h0M309.1 773.1h0M310.6 767.8h0M321.0 767.5h0M313.0 770.0h0M331.4 769.9h0M310.7 768.6h0M308.2 771.2h0M327.8 767.8h0M327.6 771.1h0M306.0 771.4h0M311.3 769.7h0M333.6 763.0h0M361.7 763.3h0M332.8 764.5h0M348.4 761.8h0M339.0 762.7h0M332.8 764.1h0M348.1 766.1h0M340.5 767.6h0M334.3 765.4h0M359.9 765.2h0M340.0 766.3h0M363.9 765.0h0M352.5 767.7h0M343.8 762.5h0M333.6 767.3h0M361.0 765.8h0M335.3 764.3h0M358.3 767.5h0M349.7 763.3h0M347.2 763.4h0M334.3 765.9h0M346.0 766.9h0M332.1 766.2h0M357.8 767.9h0M355.9 762.3h0M336.2 765.2h0M349.1 766.2h0M337.6 766.8h0M356.1 763.7h0M338.0 762.6h0M337.5 767.4h0M341.3 766.1h0M365.0 767.5h0M359.7 763.5h0M345.4 764.7h0M358.9 760.8h0M344.0 765.3h0M338.0 766.0h0M362.4 765.8h0M332.8 763.9h0M358.9 767.5h0M364.6 763.2h0M334.4 764.9h0M361.1 765.5h0M358.4 766.2h0M333.0 763.5h0M346.8 761.8h0M340.5 765.9h0M344.8 764.1h0M344.7 762.0h0M345.1 766.1h0M331.8 765.8h0M340.9 767.3h0M341.5 765.4h0M353.9 764.9h0M355.5 765.5h0M357.4 766.0h0M353.5 767.6h0M362.3 766.9h0M350.7 766.6h0M342.3 764.0h0M332.9 766.2h0M356.6 766.2h0M350.9 763.7h0M337.1 764.3h0M349.1 766.2h0M364.1 765.6h0M352.4 763.7h0M342.2 764.5h0M359.3 766.1h0M345.1 764.6h0M332.0 765.4h0M334.3 763.4h0M364.7 766.0h0M334.7 763.8h0M358.5 763.9h0M332.6 767.1h0M346.1 763.2h0M341.2 763.5h0M343.4 767.4h0M334.6 761.8h0M345.4 767.0h0M357.7 766.3h0M349.6 765.5h0M336.1 763.9h0M359.3 763.6h0M361.6 764.8h0M347.2 762.6h0M343.9 764.3h0M332.1 762.9h0M333.9 760.4h0M344.4 764.7h0M335.4 769.8h0M364.9 765.3h0M353.7 766.7h0M342.3 764.9h0M351.7 764.7h0M337.3 767.4h0M363.1 766.6h0M348.8 765.4h0M355.6 765.1h0M337.8 769.8h0M347.8 763.2h0M356.1 764.7h0M344.9 765.0h0M333.7 764.8h0M347.7 766.8h0M359.9 764.7h0M347.4 763.1h0M365.3 762.6h0M350.8 764.1h0M362.0 765.1h0M332.6 766.8h0M353.3 762.5h0M349.1 764.0h0M343.8 765.8h0M362.6 768.4h0M334.7 766.8h0M348.3 768.4h0M342.1 762.9h0M364.6 764.2h0M358.5 766.0h0M338.4 765.7h0M335.9 760.6h0M332.3 763.2h0M337.7 767.6h0M363.6 764.8h0M361.6 766.8h0M359.1 767.7h0M345.3 764.7h0M348.1 760.6h0M351.3 762.1h0M359.5 764.6h0M331.6 766.1h0M337.8 764.9h0M351.6 763.0h0M336.4 767.9h0M363.9 767.9h0M333.0 762.0h0M365.1 764.0h0M338.9 762.3h0M338.2 764.8h0M346.1 762.3h0M353.5 765.9h0M365.3 763.6h0M347.9 762.2h0M362.5 762.7h0M362.2 765.4h0M365.5 762.9h0M343.9 766.3h0M347.9 767.5h0M332.2 764.4h0M344.7 762.5h0M343.7 763.5h0M335.8 767.5h0M360.2 763.1h0M341.1 763.9h0M336.0 766.1h0M335.5 769.8h0M332.3 763.5h0M357.6 763.1h0M349.9 764.0h0M349.6 768.0h0M345.8 767.7h0M364.8 762.7h0M344.5 763.6h0M347.9 764.1h0M355.3 765.2h0M363.6 763.8h0M361.1 765.6h0M361.9 765.1h0M337.8 766.8h0M373.1 773.0h0M370.3 774.5h0M369.3 772.0h0M367.5 768.9h0M367.4 769.0h0M372.9 779.1h0M373.8 775.8h0M369.3 771.6h0M371.8 774.8h0M371.6 773.5h0M370.0 775.3h0M369.8 774.1h0M370.4 775.7h0M368.8 771.1h0M372.0 777.5h0M369.3 772.5h0M370.0 776.5h0M367.5 771.7h0M373.8 778.8h0M366.6 770.9h0M371.7 775.6h0M371.3 775.8h0M368.8 773.3h0M373.8 782.5h0M366.3 767.8h0M368.2 773.6h0M368.7 773.3h0M371.1 777.1h0M370.7 772.6h0M371.7 777.8h0M372.9 775.9h0M366.2 767.5h0M370.5 771.0h0M369.2 770.7h0M371.5 774.3h0M370.2 776.9h0M368.8 770.0h0M366.1 767.4h0M368.5 770.7h0M369.6 771.9h0M375.2 779.2h0M381.1 769.4h0M380.5 768.0h0M380.5 771.9h0M377.2 778.4h0M374.7 776.9h0M375.3 778.1h0M380.1 767.2h0M376.8 775.1h0M382.5 768.6h0M375.1 778.3h0M381.3 769.4h0M378.3 774.5h0M376.6 777.1h0M376.3 775.7h0M377.2 776.3h0M377.3 771.6h0M376.0 778.4h0M376.0 776.1h0M382.7 769.8h0M377.8 776.9h0M379.6 768.3h0M380.3 775.6h0M377.0 771.6h0M382.4 771.8h0M376.6 775.0h0M375.7 771.3h0M374.4 782.3h0M376.4 778.4h0M374.6 774.7h0M379.6 771.4h0M379.2 773.5h0M374.2 778.0h0M382.5 770.6h0M380.6 770.5h0M379.0 769.4h0M382.5 769.4h0M378.8 772.5h0M375.6 773.8h0M381.0 766.0h0M382.6 769.8h0M374.5 776.9h0M378.5 774.3h0M376.0 777.2h0M382.1 769.9h0M406.2 764.1h0M425.8 764.6h0M404.5 764.5h0M423.3 763.8h0M383.4 764.7h0M408.3 766.5h0M413.3 764.7h0M400.4 763.2h0M386.6 765.5h0M417.9 765.3h0M416.1 767.5h0M399.8 763.3h0M387.3 766.2h0M419.9 766.6h0M417.1 766.1h0M419.7 766.8h0M419.0 765.8h0M394.6 763.1h0M410.5 764.0h0M403.5 762.8h0M400.2 762.7h0M401.1 766.9h0M412.6 764.5h0M426.9 762.7h0M403.8 761.3h0M399.1 767.8h0M410.6 767.8h0M410.7 764.5h0M400.9 765.9h0M411.4 767.1h0M411.9 764.7h0M415.9 766.7h0M390.3 769.3h0M411.7 765.4h0M401.4 765.1h0M421.7 764.2h0M410.2 763.7h0M418.7 765.0h0M418.7 765.8h0M392.4 766.5h0M386.4 768.2h0M416.4 766.1h0M385.4 763.6h0M424.7 764.2h0M413.4 761.8h0M401.6 765.6h0M412.5 768.5h0M388.8 763.9h0M411.1 763.5h0M423.5 767.4h0M383.0 768.2h0M424.3 765.1h0M396.7 764.1h0M400.5 767.3h0M424.3 765.9h0M418.0 766.7h0M399.9 767.4h0M426.1 767.6h0M384.4 765.1h0M412.1 766.0h0M405.4 766.5h0M422.0 769.9h0M383.8 762.3h0M397.2 767.0h0M404.0 765.6h0M386.2 767.3h0M411.4 764.7h0M420.3 768.0h0M422.9 765.2h0M389.3 765.7h0M405.3 763.8h0M426.3 767.3h0M386.1 766.5h0M414.0 765.8h0M395.6 761.7h0M423.0 767.9h0M409.8 764.9h0M422.4 766.5h0M385.2 764.8h0M409.6 764.2h0M401.5 765.1h0M387.7 764.9h0M401.0 764.9h0M415.6 766.4h0M408.6 765.7h0M409.1 768.3h0M395.3 766.0h0M405.4 766.7h0M402.6 765.8h0M423.0 764.1h0M421.6 764.7h0M402.2 764.5h0M405.1 763.4h0M395.9 769.5h0M407.9 764.6h0M388.7 765.4h0M425.5 765.5h0M401.2 767.7h0M383.4 764.4h0M396.1 763.4h0M424.8 763.6h0M396.7 765.5h0M400.0 764.3h0M425.9 763.8h0M417.5 762.2h0M398.9 763.2h0M390.3 765.1h0M400.2 765.2h0M399.4 765.1h0M422.4 765.0h0M406.7 766.2h0M423.7 764.0h0M426.4 766.6h0M421.3 766.8h0M400.9 764.8h0M400.2 766.4h0M407.1 765.8h0M412.9 769.0h0M420.3 764.0h0M419.0 765.4h0M396.8 765.6h0M415.4 764.6h0M399.5 765.0h0M417.2 766.6h0M383.6 761.9h0M420.3 766.2h0M413.7 763.7h0M389.5 762.2h0M394.0 766.5h0M396.7 765.2h0M405.6 766.8h0M422.8 763.5h0M425.7 766.0h0M409.5 767.3h0M387.8 763.1h0M426.0 763.8h0M425.3 766.9h0M386.9 763.3h0M412.3 765.0h0M412.3 760.6h0M412.1 762.4h0M414.9 766.3h0M383.2 765.9h0M396.6 766.9h0M397.9 765.1h0M411.6 765.3h0M387.2 764.1h0M395.2 765.2h0M390.7 768.0h0M385.1 766.8h0M403.8 762.9h0M392.0 763.4h0M404.2 765.7h0M392.1 765.6h0M417.8 765.7h0M387.9 765.3h0M416.9 768.3h0M411.9 763.8h0M390.0 766.5h0M399.7 765.1h0M399.8 769.8h0M403.0 765.0h0M412.7 763.0h0M383.7 769.3h0M390.3 762.7h0M413.7 764.6h0M387.1 766.7h0M420.1 768.2h0M399.3 763.4h0M384.6 764.9h0M416.8 764.3h0M393.8 765.9h0M426.9 766.8h0M423.6 763.9h0M422.0 767.1h0M421.9 763.8h0M386.2 768.3h0M384.2 767.0h0M400.6 767.9h0M401.5 763.1h0M401.0 768.4h0M409.3 767.4h0M417.5 764.2h0M417.7 765.0h0M423.9 761.6h0M412.8 762.2h0M421.6 764.3h0M387.0 764.2h0M384.1 768.6h0M402.9 766.9h0M421.8 766.0h0M400.0 765.7h0M387.9 767.8h0M388.6 767.0h0M393.1 766.9h0M421.0 763.5h0M397.8 764.6h0M420.8 766.0h0M424.5 765.9h0M417.1 764.9h0M423.6 766.6h0M394.2 765.8h0M391.6 768.4h0M393.6 764.2h0M383.8 763.7h0M424.0 764.8h0M392.1 764.5h0M410.7 764.7h0M395.5 761.8h0M406.8 765.0h0M402.2 767.7h0M414.7 767.2h0M391.8 764.1h0M395.7 763.5h0M389.1 764.0h0M397.3 763.9h0M419.7 765.1h0M425.4 768.0h0M383.7 766.6h0M420.2 768.6h0M432.8 777.3h0M427.5 774.2h0M427.8 776.5h0M427.1 775.8h0M430.6 776.3h0M429.4 777.5h0M427.5 779.8h0M430.0 783.3h0M432.3 774.9h0M427.6 771.7h0M430.8 778.4h0M428.0 773.9h0M430.1 776.7h0M429.1 774.6h0M428.7 778.1h0M427.1 776.2h0M430.5 775.9h0M429.7 783.1h0M431.1 774.8h0M428.1 775.9h0M432.9 783.4h0M427.1 773.4h0M428.2 775.6h0M430.8 774.9h0M427.8 774.4h0M428.6 776.8h0M430.0 778.9h0M431.5 776.9h0M432.2 776.9h0M428.9 768.5h0M456.9 766.2h0M456.0 766.2h0M450.2 764.0h0M483.7 768.2h0M451.1 763.4h0M459.6 765.9h0M463.2 763.8h0M496.8 767.8h0M454.1 765.4h0M477.2 763.8h0M454.0 765.8h0M484.2 768.7h0M457.8 766.6h0M434.4 765.0h0M466.5 768.6h0M454.6 768.7h0M449.9 765.6h0M451.7 767.8h0M433.1 764.8h0M479.8 768.2h0M468.1 769.4h0M473.7 767.4h0M469.4 763.3h0M457.4 767.6h0M462.4 766.0h0M463.5 765.6h0M491.7 767.7h0M455.3 764.0h0M442.8 765.7h0M438.4 765.2h0M454.6 769.1h0M469.6 769.2h0M470.3 771.1h0M479.6 766.4h0M475.2 766.4h0M438.3 764.7h0M457.9 763.3h0M456.7 766.5h0M440.2 766.5h0M470.7 765.2h0M482.6 763.2h0M435.7 767.5h0M466.9 764.9h0M440.6 766.5h0M482.7 766.6h0M468.7 764.5h0M437.2 767.5h0M466.0 768.0h0M448.4 764.8h0M446.3 766.0h0M475.7 766.5h0M458.9 766.2h0M492.4 765.1h0M491.7 766.7h0M487.6 764.6h0M459.3 765.2h0M490.9 763.3h0M437.6 763.7h0M482.6 764.4h0M456.0 766.4h0M488.4 765.8h0M434.9 767.1h0M469.8 760.8h0M437.5 766.4h0M451.9 765.0h0M469.1 763.5h0M441.9 768.5h0M477.4 767.5h0M465.8 766.7h0M447.3 767.8h0M467.4 768.3h0M461.5 766.9h0M435.2 763.6h0M478.4 764.7h0M478.7 765.9h0M491.2 765.9h0M493.3 769.0h0M456.7 764.7h0M474.2 765.2h0M471.9 768.0h0M436.4 765.6h0M479.3 766.3h0M450.4 766.9h0M460.2 767.8h0M472.7 767.2h0M465.3 767.7h0M450.9 765.1h0M488.9 765.3h0M439.0 765.4h0M471.6 766.3h0M444.8 766.7h0M492.2 762.3h0M492.9 769.4h0M478.7 763.8h0M489.6 765.3h0M482.0 765.9h0M474.9 766.9h0M480.8 766.4h0M491.3 768.2h0M446.9 768.5h0M479.7 766.2h0M444.5 769.0h0M462.5 764.5h0M454.7 763.9h0M473.6 772.3h0M473.9 768.8h0M490.8 765.5h0M486.7 765.6h0M437.2 765.8h0M444.1 765.2h0M435.9 764.6h0M478.5 764.4h0M455.2 762.7h0M495.4 765.9h0M446.7 764.4h0M494.2 769.0h0M481.4 766.2h0M481.8 768.2h0M471.9 763.4h0M489.6 761.7h0M448.0 765.0h0M488.6 768.4h0M489.4 766.2h0M471.8 765.9h0M475.3 765.6h0M447.6 764.0h0M464.4 764.2h0M470.6 770.8h0M453.2 763.5h0M435.7 766.9h0M493.8 767.0h0M484.6 763.4h0M456.4 766.5h0M467.1 768.5h0M470.8 768.4h0M494.3 765.9h0M468.7 764.3h0M479.3 763.2h0M484.4 766.3h0M439.4 766.8h0M470.2 763.0h0M492.5 766.8h0M485.7 763.3h0M492.0 765.5h0M443.4 765.5h0M482.8 766.4h0M450.9 765.4h0M489.1 766.8h0M483.2 767.2h0M457.0 766.2h0M470.1 767.2h0M463.0 765.4h0M493.2 765.8h0M468.4 766.5h0M438.0 766.3h0M467.3 766.4h0M434.2 762.8h0M441.7 766.0h0M464.4 767.1h0M462.5 766.5h0M437.4 764.8h0M454.8 766.3h0M451.4 766.3h0M451.3 766.4h0M461.4 765.7h0M435.2 765.3h0M435.1 765.2h0M448.0 769.0h0M478.8 767.9h0M492.9 770.8h0M481.3 764.5h0M437.9 764.0h0M485.8 763.6h0M485.5 765.7h0M487.0 763.9h0M479.5 766.0h0M449.7 766.2h0M464.7 768.8h0M461.2 767.4h0M435.2 767.1h0M467.6 764.3h0M449.9 762.9h0M494.0 766.8h0M475.7 765.3h0M484.8 765.5h0M435.1 767.4h0M478.6 769.1h0M484.4 767.4h0M462.5 768.6h0M449.2 766.6h0M464.2 766.2h0M468.2 766.3h0M460.8 766.3h0M453.4 765.1h0M475.8 767.7h0M490.1 764.4h0M450.2 769.0h0M489.5 765.9h0M436.5 765.3h0M477.0 767.4h0M455.0 768.9h0M466.6 764.8h0M455.7 767.2h0M438.2 764.6h0M443.6 764.6h0M496.2 766.0h0M459.6 766.0h0M493.8 764.2h0M466.3 765.3h0M490.5 767.7h0M461.5 765.7h0M496.4 765.0h0M463.6 765.6h0M449.6 765.6h0M444.3 766.3h0M437.6 766.2h0M440.0 767.7h0M476.7 768.6h0M456.2 763.9h0M488.9 767.1h0M445.7 765.6h0M492.8 768.7h0M445.2 765.7h0M450.3 767.5h0M454.8 760.6h0M449.8 767.8h0M459.6 767.7h0M484.4 764.3h0M437.6 763.9h0M448.6 769.8h0M436.4 765.5h0M482.6 764.4h0M440.7 768.2h0M465.6 764.7h0M488.6 766.9h0M453.2 767.8h0M440.4 766.6h0M450.1 766.8h0M493.1 768.5h0M439.1 761.9h0M488.3 766.8h0M440.7 767.3h0M443.5 764.4h0M482.4 766.1h0M473.9 763.6h0M453.5 766.5h0M477.9 765.3h0M442.5 765.8h0M489.4 765.7h0M469.8 766.4h0M493.6 766.2h0M471.1 762.9h0M469.6 767.2h0M487.9 767.0h0M470.3 766.6h0M438.6 765.0h0M472.2 765.3h0M451.8 764.3h0M473.8 768.4h0M496.9 765.5h0M472.0 766.3h0M486.4 766.5h0M455.7 765.7h0M433.7 769.6h0M436.0 765.5h0M434.2 765.7h0M446.9 768.6h0M450.3 766.2h0M453.6 763.2h0M474.9 766.7h0M480.9 764.9h0M482.2 766.4h0M481.1 767.5h0M487.7 767.7h0M479.2 766.7h0M462.4 763.6h0M459.4 764.5h0M438.2 767.3h0M433.9 764.2h0M487.9 766.2h0M442.5 767.2h0M488.3 765.2h0M458.6 767.6h0M436.8 768.8h0M486.1 763.6h0M478.7 769.3h0M496.9 765.0h0M467.7 768.7h0M492.5 766.0h0M465.4 766.3h0M449.7 766.8h0M458.7 769.9h0M475.2 766.2h0M489.9 766.1h0M485.2 767.6h0M492.6 766.1h0M467.4 764.2h0M462.5 767.3h0M466.6 765.5h0M492.7 768.1h0M456.4 765.3h0M436.9 764.8h0M458.1 761.5h0M474.6 764.3h0M486.3 765.2h0M493.3 763.4h0M477.0 767.8h0M485.1 764.0h0M485.0 767.0h0M484.8 767.1h0M471.4 764.0h0M493.5 765.6h0M490.1 763.6h0M433.5 768.6h0M440.8 765.5h0M496.5 766.9h0M475.6 766.5h0M442.0 769.4h0M491.3 764.3h0M438.7 765.6h0M516.7 762.8h0M511.0 765.2h0M511.4 752.5h0M506.3 784.0h0M504.9 777.6h0M515.6 761.1h0M506.0 767.9h0M499.5 772.9h0M512.6 755.4h0M501.0 762.7h0M504.8 775.2h0M509.2 770.8h0M513.6 760.1h0M497.1 753.4h0M510.0 780.4h0M499.7 764.3h0M509.6 768.8h0M509.1 778.6h0M507.3 767.3h0M505.5 777.5h0M507.8 769.9h0M516.1 754.6h0M504.0 762.4h0M506.4 760.5h0M499.9 761.8h0M504.8 763.6h0M498.0 759.1h0M515.2 774.4h0M503.9 768.6h0M515.8 760.0h0M499.7 771.3h0M510.2 769.2h0M509.1 757.4h0M510.2 755.1h0M512.9 770.4h0M498.5 771.9h0M511.8 761.9h0M497.5 764.1h0M503.0 770.8h0M513.9 761.8h0M508.4 762.1h0M515.6 765.5h0M514.2 745.0h0M505.5 756.3h0M502.6 760.2h0M501.1 758.7h0M497.8 744.9h0M511.3 758.2h0M513.1 771.1h0M498.0 763.7h0M506.8 765.5h0M513.6 770.1h0M509.8 764.1h0M505.3 764.2h0M516.0 766.4h0M505.5 769.5h0M503.2 760.1h0M506.9 777.4h0M503.9 760.1h0M504.8 765.9h0M506.9 764.0h0M498.5 783.0h0M509.1 754.0h0M508.7 778.4h0M511.2 772.2h0M501.9 761.4h0M497.8 770.3h0M511.2 768.9h0M504.4 782.0h0M509.0 769.1h0M502.4 764.5h0M504.0 761.1h0M502.3 768.0h0M506.9 764.4h0M510.0 762.8h0M501.7 770.8h0M503.3 771.4h0M506.2 751.9h0M510.9 772.1h0M504.4 757.1h0M333.0 739.2h0M333.0 741.0h0M334.0 747.0h0M333.5 752.0h0M332.5 757.0h0M252.0 745.5h0M255.0 748.0h0M279.0 770.0h0M287.0 781.0h0M420.0 748.0h0M433.0 746.0h0M498.0 746.0h0M502.0 744.0h0M246.0 750.0h0M240.0 752.0h0" stroke="#1c1a6c" stroke-width="2.4" stroke-linecap="round" fill="none"/>
<path d="M26.2,746.2 L26.2,753.0" stroke="#e8302a" stroke-width="1.3"/>
<path d="M26.2,760.0 L22.6,753.0 L29.9,753.0 Z" fill="#e8302a"/>
<path d="M262.2,720.0 L262.2,739.0" stroke="#e8302a" stroke-width="1.3"/>
<path d="M262.2,746.0 L258.6,739.0 L265.8,739.0 Z" fill="#e8302a"/>
<path d="M279.2,747.0 L277.4,751.3" stroke="#e8302a" stroke-width="1.3"/>
<path d="M274.6,757.7 L274.1,749.8 L280.7,752.7 Z" fill="#e8302a"/>
<path d="M331.5,719.2 L331.5,724.5" stroke="#e8302a" stroke-width="1.3"/>
<path d="M331.5,731.5 L327.9,724.5 L335.1,724.5 Z" fill="#e8302a"/>
<path d="M430.0,747.3 L430.0,751.8" stroke="#e8302a" stroke-width="1.3"/>
<path d="M430.0,758.8 L426.4,751.8 L433.6,751.8 Z" fill="#e8302a"/>
<text x="19.5" y="741.2" font-family="Liberation Sans, sans-serif" font-weight="bold" font-size="10" textLength="20.5" lengthAdjust="spacingAndGlyphs" stroke="#000" stroke-width="0.3" >1p21</text>
<text x="227.2" y="714.2" font-family="Liberation Sans, sans-serif" font-weight="bold" font-size="10" stroke="#000" stroke-width="0.3" textLength="49.1" lengthAdjust="spacingAndGlyphs">9p21.3-<tspan font-style="italic">P16</tspan></text>
<text x="268.4" y="739.5" font-family="Liberation Sans, sans-serif" font-weight="bold" font-size="10" textLength="40.8" lengthAdjust="spacingAndGlyphs" stroke="#000" stroke-width="0.3" >9q21-q22</text>
<text x="310.4" y="716" font-family="Liberation Sans, sans-serif" font-weight="bold" font-size="10" stroke="#000" stroke-width="0.3" textLength="61.9" lengthAdjust="spacingAndGlyphs">11q13-<tspan font-style="italic">CCND1</tspan></text>
<text x="410" y="743" font-family="Liberation Sans, sans-serif" font-weight="bold" font-size="10" stroke="#000" stroke-width="0.3" textLength="53.7" lengthAdjust="spacingAndGlyphs">17p13.1-<tspan font-style="italic">P53</tspan></text>
<text x="372.6" y="797.8" font-family="Liberation Sans, sans-serif" font-weight="bold" font-size="10.5" textLength="138.2" lengthAdjust="spacingAndGlyphs" stroke="#000" stroke-width="0.3" >MCL047; survival time, 1 month</text>
</svg>
</body></html>
